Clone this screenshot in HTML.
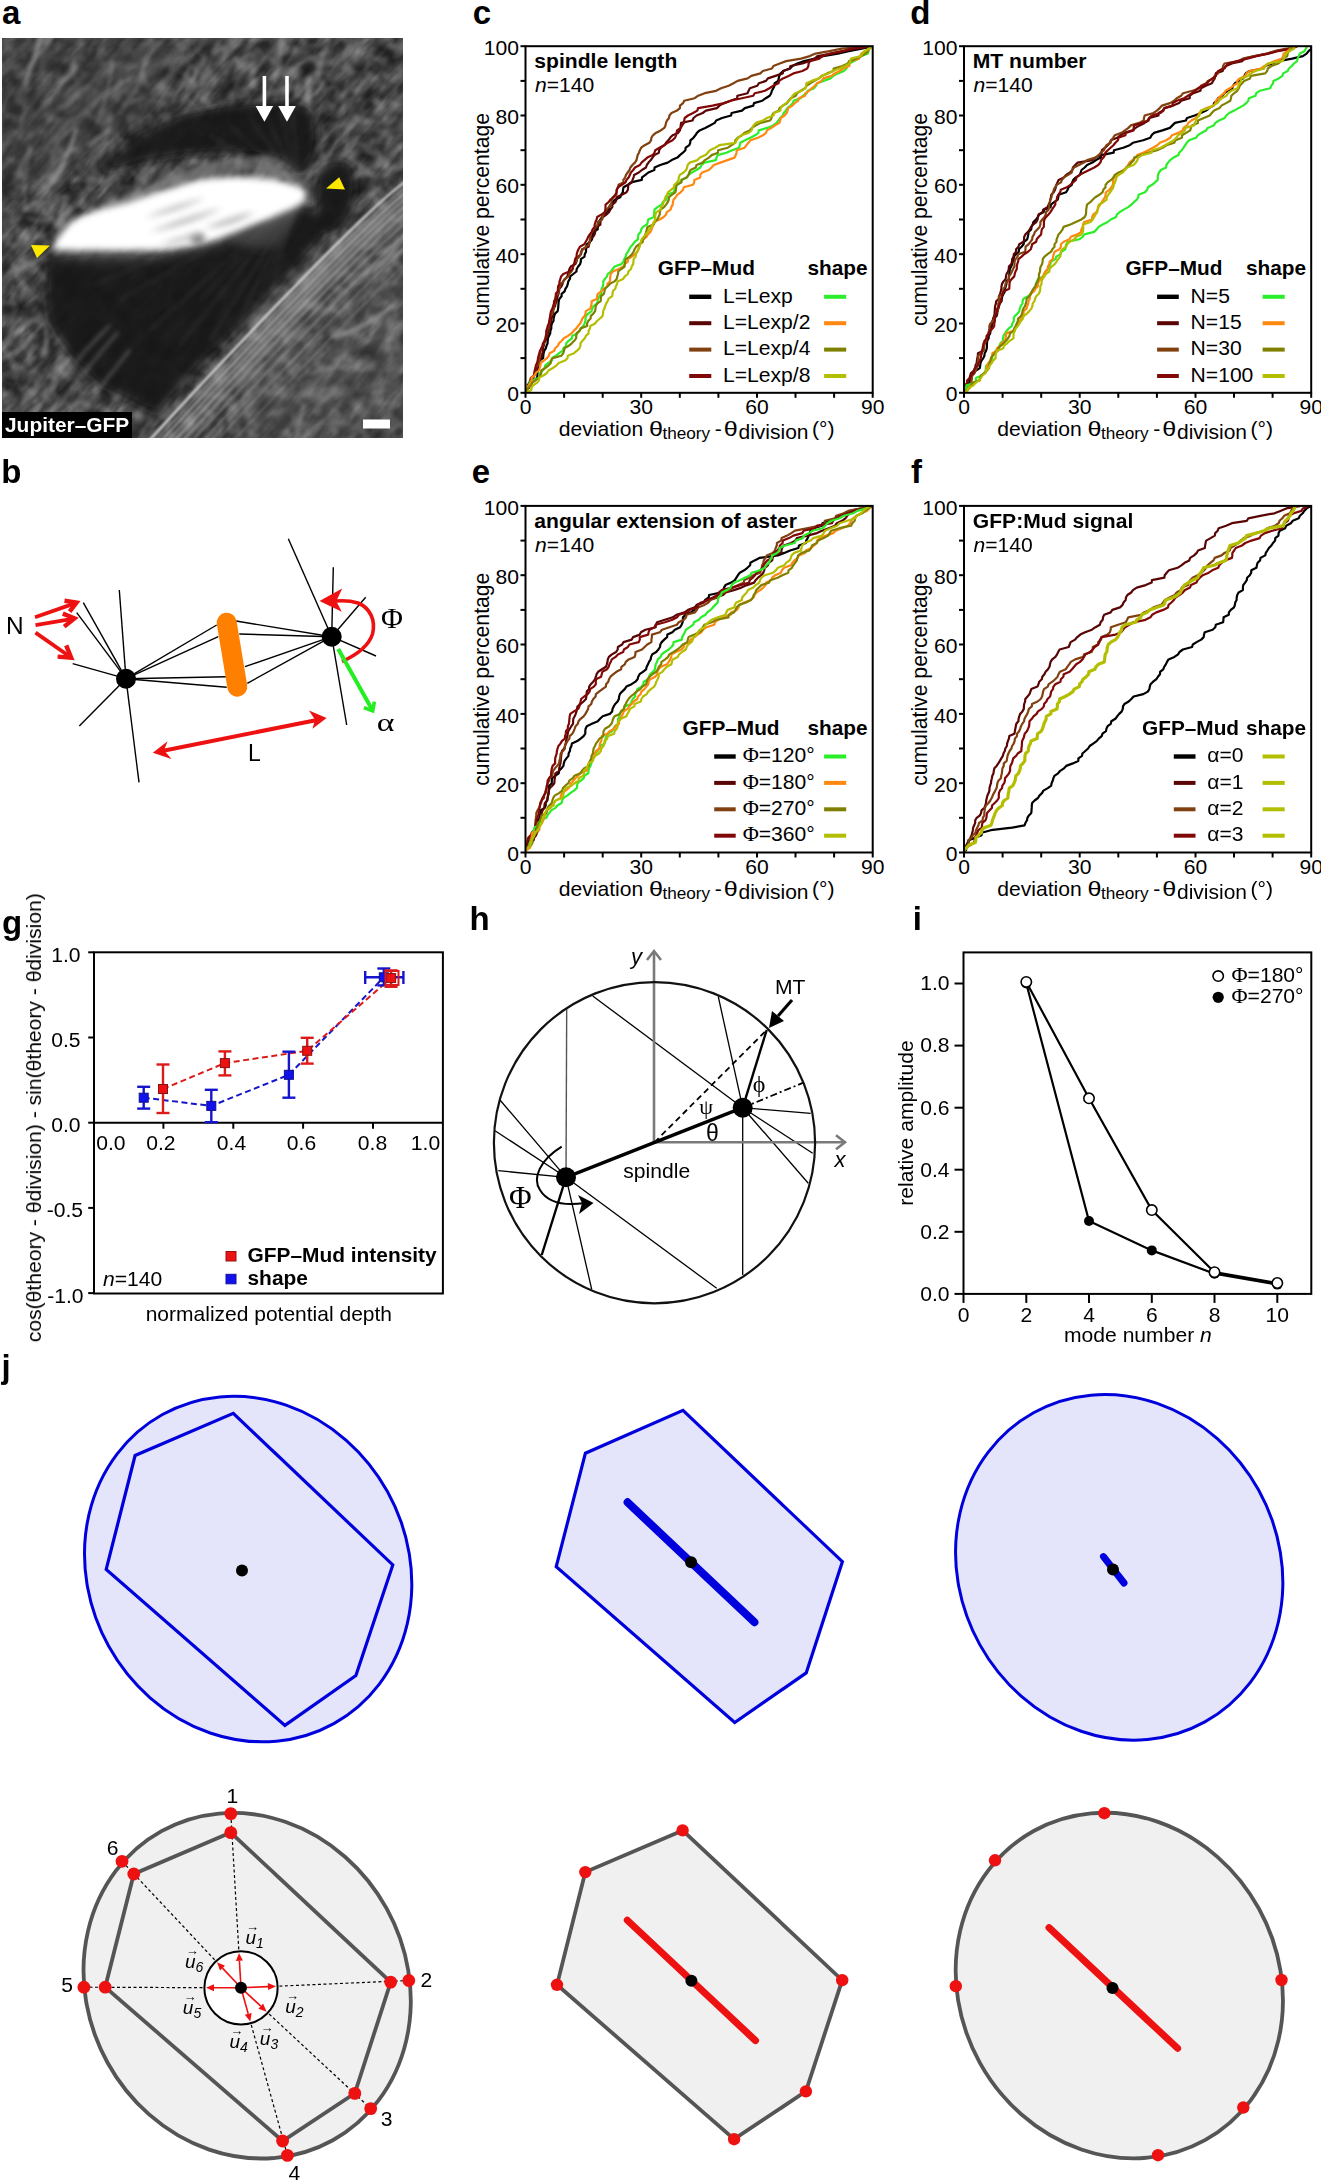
<!DOCTYPE html><html><head><meta charset="utf-8"><title>Figure</title><style>html,body{margin:0;padding:0;background:#fff;width:1321px;height:2181px;overflow:hidden;}svg{display:block;font-family:"Liberation Sans",sans-serif;}</style></head><body><svg width="1321" height="2181" viewBox="0 0 1321 2181" font-family="Liberation Sans, sans-serif">
<rect width="1321" height="2181" fill="#fff"/>
<text x="2.0" y="23.7" font-size="33" font-weight="bold" font-style="normal" text-anchor="start" fill="#000" >a</text>
<defs><clipPath id="clipA"><rect x="2" y="38" width="401" height="400"/></clipPath><filter id="b1" x="-20%" y="-20%" width="140%" height="140%"><feGaussianBlur stdDeviation="1.2"/></filter><filter id="b2" x="-20%" y="-20%" width="140%" height="140%"><feGaussianBlur stdDeviation="2"/></filter><filter id="b3" x="-20%" y="-20%" width="140%" height="140%"><feGaussianBlur stdDeviation="3"/></filter><filter id="b5" x="-30%" y="-30%" width="160%" height="160%"><feGaussianBlur stdDeviation="5"/></filter><filter id="b8" x="-30%" y="-30%" width="160%" height="160%"><feGaussianBlur stdDeviation="8"/></filter><filter id="noise" x="0" y="0" width="100%" height="100%"><feTurbulence type="fractalNoise" baseFrequency="0.03 0.11" numOctaves="3" seed="3" result="t"/><feColorMatrix type="matrix" values="0 0 0 0 1  0 0 0 0 1  0 0 0 0 1  2.2 0 0 0 -0.85"/><feGaussianBlur stdDeviation="0.7"/></filter><filter id="noise2" x="0" y="0" width="100%" height="100%"><feTurbulence type="fractalNoise" baseFrequency="0.05 0.05" numOctaves="2" seed="11" result="t"/><feColorMatrix type="matrix" values="0 0 0 0 0  0 0 0 0 0  0 0 0 0 0  1.6 0 0 0 -0.55"/><feGaussianBlur stdDeviation="2"/></filter><filter id="noise3" x="0" y="0" width="100%" height="100%"><feTurbulence type="fractalNoise" baseFrequency="0.07 0.07" numOctaves="2" seed="23" result="t"/><feColorMatrix type="matrix" values="0 0 0 0 1  0 0 0 0 1  0 0 0 0 1  1.8 0 0 0 -0.75"/><feGaussianBlur stdDeviation="1.2"/></filter></defs>
<g clip-path="url(#clipA)">
<rect x="2" y="38" width="401" height="400" fill="#3c3c3c"/>
<rect x="-100" y="-100" width="700" height="700" filter="url(#noise)" opacity="0.3" transform="rotate(-50 200 240)"/>
<rect x="2" y="38" width="401" height="400" filter="url(#noise2)" opacity="0.85"/>
<rect x="2" y="38" width="401" height="400" filter="url(#noise3)" opacity="0.35"/>
<g filter="url(#b8)">
<path d="M2,38 L200,38 L150,110 L80,170 L2,200 Z" fill="#3a3a3a" opacity="0.45"/>
<path d="M260,300 L403,200 L403,438 L230,438 Z" fill="#6a6a6a" opacity="0.35"/>
</g>
<g filter="url(#b2)" fill="none" stroke-linecap="round">
<path d="M254,349 Q284,344 310,327" stroke="rgb(123,123,123)" stroke-width="3.0" stroke-opacity="0.57"/>
<path d="M90,52 Q93,39 100,27" stroke="rgb(151,151,151)" stroke-width="2.3" stroke-opacity="0.34"/>
<path d="M90,344 Q105,331 122,320" stroke="rgb(129,129,129)" stroke-width="2.0" stroke-opacity="0.52"/>
<path d="M36,31 Q65,18 97,15" stroke="rgb(147,147,147)" stroke-width="3.1" stroke-opacity="0.36"/>
<path d="M53,165 Q63,152 78,149" stroke="rgb(145,145,145)" stroke-width="3.2" stroke-opacity="0.61"/>
<path d="M111,185 Q109,170 118,158" stroke="rgb(128,128,128)" stroke-width="2.3" stroke-opacity="0.59"/>
<path d="M238,286 Q258,267 283,254" stroke="rgb(160,160,160)" stroke-width="2.1" stroke-opacity="0.47"/>
<path d="M57,140 Q86,121 103,91" stroke="rgb(165,165,165)" stroke-width="3.0" stroke-opacity="0.31"/>
<path d="M327,187 Q339,166 359,151" stroke="rgb(145,145,145)" stroke-width="2.0" stroke-opacity="0.39"/>
<path d="M341,229 Q359,214 367,192" stroke="rgb(152,152,152)" stroke-width="2.9" stroke-opacity="0.34"/>
<path d="M309,373 Q340,364 372,369" stroke="rgb(163,163,163)" stroke-width="2.5" stroke-opacity="0.43"/>
<path d="M45,149 Q61,125 86,111" stroke="rgb(160,160,160)" stroke-width="2.2" stroke-opacity="0.58"/>
<path d="M256,340 Q249,322 256,305" stroke="rgb(196,196,196)" stroke-width="2.5" stroke-opacity="0.44"/>
<path d="M84,285 Q103,261 123,237" stroke="rgb(173,173,173)" stroke-width="2.0" stroke-opacity="0.64"/>
<path d="M261,375 Q276,364 290,352" stroke="rgb(136,136,136)" stroke-width="2.7" stroke-opacity="0.58"/>
<path d="M27,217 Q40,224 54,219" stroke="rgb(157,157,157)" stroke-width="2.0" stroke-opacity="0.62"/>
<path d="M253,103 Q273,91 296,85" stroke="rgb(155,155,155)" stroke-width="2.2" stroke-opacity="0.44"/>
<path d="M44,192 Q67,164 76,130" stroke="rgb(200,200,200)" stroke-width="3.1" stroke-opacity="0.60"/>
<path d="M59,242 Q56,218 67,196" stroke="rgb(165,165,165)" stroke-width="2.8" stroke-opacity="0.53"/>
<path d="M314,186 Q324,160 340,137" stroke="rgb(182,182,182)" stroke-width="2.2" stroke-opacity="0.64"/>
<path d="M295,441 Q310,430 325,420" stroke="rgb(152,152,152)" stroke-width="2.3" stroke-opacity="0.40"/>
<path d="M107,245 Q132,235 159,230" stroke="rgb(155,155,155)" stroke-width="2.7" stroke-opacity="0.56"/>
<path d="M344,181 Q375,171 397,148" stroke="rgb(162,162,162)" stroke-width="2.5" stroke-opacity="0.49"/>
<path d="M53,390 Q59,357 65,324" stroke="rgb(130,130,130)" stroke-width="2.8" stroke-opacity="0.56"/>
<path d="M56,366 Q67,344 75,321" stroke="rgb(154,154,154)" stroke-width="2.8" stroke-opacity="0.31"/>
<path d="M50,220 Q53,193 64,169" stroke="rgb(143,143,143)" stroke-width="2.7" stroke-opacity="0.31"/>
<path d="M187,127 Q192,116 204,112" stroke="rgb(144,144,144)" stroke-width="2.6" stroke-opacity="0.45"/>
<path d="M134,315 Q140,304 152,299" stroke="rgb(167,167,167)" stroke-width="1.8" stroke-opacity="0.44"/>
<path d="M103,206 Q107,192 121,188" stroke="rgb(198,198,198)" stroke-width="2.2" stroke-opacity="0.40"/>
<path d="M206,439 Q208,422 215,406" stroke="rgb(136,136,136)" stroke-width="2.4" stroke-opacity="0.58"/>
<path d="M263,189 Q273,177 268,162" stroke="rgb(137,137,137)" stroke-width="2.7" stroke-opacity="0.42"/>
<path d="M373,30 Q378,19 381,6" stroke="rgb(198,198,198)" stroke-width="2.6" stroke-opacity="0.41"/>
<path d="M366,273 Q384,262 402,252" stroke="rgb(168,168,168)" stroke-width="2.3" stroke-opacity="0.60"/>
<path d="M50,285 Q62,259 80,237" stroke="rgb(152,152,152)" stroke-width="2.4" stroke-opacity="0.41"/>
<path d="M413,241 Q422,227 427,210" stroke="rgb(176,176,176)" stroke-width="2.1" stroke-opacity="0.31"/>
<path d="M40,199 Q54,182 66,163" stroke="rgb(151,151,151)" stroke-width="3.1" stroke-opacity="0.57"/>
<path d="M88,145 Q100,138 110,129" stroke="rgb(180,180,180)" stroke-width="2.5" stroke-opacity="0.60"/>
<path d="M367,415 Q368,403 379,398" stroke="rgb(156,156,156)" stroke-width="2.5" stroke-opacity="0.42"/>
<path d="M111,258 Q116,237 119,216" stroke="rgb(124,124,124)" stroke-width="1.8" stroke-opacity="0.49"/>
<path d="M282,76 Q304,59 330,51" stroke="rgb(174,174,174)" stroke-width="2.9" stroke-opacity="0.45"/>
<path d="M233,335 Q226,310 222,284" stroke="rgb(170,170,170)" stroke-width="2.8" stroke-opacity="0.55"/>
<path d="M376,230 Q392,206 413,186" stroke="rgb(120,120,120)" stroke-width="2.8" stroke-opacity="0.45"/>
<path d="M106,366 Q132,346 157,324" stroke="rgb(183,183,183)" stroke-width="3.2" stroke-opacity="0.49"/>
<path d="M167,263 Q179,259 186,250" stroke="rgb(154,154,154)" stroke-width="2.9" stroke-opacity="0.58"/>
<path d="M272,41 Q297,55 324,63" stroke="rgb(126,126,126)" stroke-width="2.0" stroke-opacity="0.34"/>
<path d="M250,384 Q261,375 261,361" stroke="rgb(157,157,157)" stroke-width="2.8" stroke-opacity="0.45"/>
<path d="M61,110 Q84,91 106,70" stroke="rgb(168,168,168)" stroke-width="2.8" stroke-opacity="0.40"/>
<path d="M231,81 Q246,67 258,51" stroke="rgb(121,121,121)" stroke-width="2.4" stroke-opacity="0.41"/>
<path d="M244,241 Q263,213 277,182" stroke="rgb(139,139,139)" stroke-width="2.6" stroke-opacity="0.54"/>
<path d="M108,435 Q120,414 138,399" stroke="rgb(128,128,128)" stroke-width="2.6" stroke-opacity="0.39"/>
<path d="M310,252 Q321,244 326,231" stroke="rgb(142,142,142)" stroke-width="2.0" stroke-opacity="0.31"/>
<path d="M130,276 Q143,275 148,264" stroke="rgb(184,184,184)" stroke-width="2.6" stroke-opacity="0.38"/>
<path d="M366,237 Q380,224 387,208" stroke="rgb(126,126,126)" stroke-width="3.0" stroke-opacity="0.63"/>
<path d="M169,372 Q177,343 198,322" stroke="rgb(182,182,182)" stroke-width="2.9" stroke-opacity="0.35"/>
<path d="M255,182 Q258,167 266,152" stroke="rgb(169,169,169)" stroke-width="2.3" stroke-opacity="0.55"/>
<path d="M138,157 Q164,151 183,132" stroke="rgb(166,166,166)" stroke-width="2.5" stroke-opacity="0.51"/>
<path d="M232,348 Q241,330 258,318" stroke="rgb(125,125,125)" stroke-width="2.5" stroke-opacity="0.63"/>
<path d="M271,180 Q281,162 297,147" stroke="rgb(199,199,199)" stroke-width="3.1" stroke-opacity="0.41"/>
<path d="M183,112 Q210,111 234,99" stroke="rgb(180,180,180)" stroke-width="2.0" stroke-opacity="0.39"/>
<path d="M102,99 Q114,86 130,79" stroke="rgb(181,181,181)" stroke-width="3.1" stroke-opacity="0.42"/>
<path d="M311,166 Q324,165 331,154" stroke="rgb(139,139,139)" stroke-width="2.0" stroke-opacity="0.53"/>
<path d="M108,320 Q121,295 143,276" stroke="rgb(145,145,145)" stroke-width="2.8" stroke-opacity="0.50"/>
<path d="M269,296 Q279,264 298,237" stroke="rgb(166,166,166)" stroke-width="2.2" stroke-opacity="0.56"/>
<path d="M296,100 Q299,84 298,68" stroke="rgb(125,125,125)" stroke-width="2.7" stroke-opacity="0.45"/>
<path d="M409,33 Q411,19 424,15" stroke="rgb(190,190,190)" stroke-width="3.0" stroke-opacity="0.59"/>
<path d="M229,434 Q231,406 241,380" stroke="rgb(182,182,182)" stroke-width="1.9" stroke-opacity="0.46"/>
<path d="M280,307 Q298,292 307,271" stroke="rgb(177,177,177)" stroke-width="2.2" stroke-opacity="0.32"/>
<path d="M-3,448 Q4,435 10,422" stroke="rgb(171,171,171)" stroke-width="2.1" stroke-opacity="0.38"/>
<path d="M388,370 Q392,357 406,354" stroke="rgb(147,147,147)" stroke-width="2.7" stroke-opacity="0.45"/>
<path d="M137,212 Q154,188 170,163" stroke="rgb(136,136,136)" stroke-width="2.8" stroke-opacity="0.62"/>
<path d="M115,223 Q131,197 152,174" stroke="rgb(131,131,131)" stroke-width="2.9" stroke-opacity="0.39"/>
<path d="M157,87 Q174,70 191,54" stroke="rgb(130,130,130)" stroke-width="2.9" stroke-opacity="0.64"/>
<path d="M273,149 Q290,133 299,112" stroke="rgb(167,167,167)" stroke-width="3.0" stroke-opacity="0.33"/>
<path d="M319,193 Q343,176 373,173" stroke="rgb(156,156,156)" stroke-width="2.7" stroke-opacity="0.57"/>
<path d="M233,220 Q239,190 238,159" stroke="rgb(174,174,174)" stroke-width="2.2" stroke-opacity="0.58"/>
<path d="M148,86 Q141,75 144,63" stroke="rgb(153,153,153)" stroke-width="2.5" stroke-opacity="0.41"/>
<path d="M-5,263 Q21,249 36,224" stroke="rgb(165,165,165)" stroke-width="2.4" stroke-opacity="0.39"/>
<path d="M399,37 Q408,15 427,0" stroke="rgb(145,145,145)" stroke-width="2.3" stroke-opacity="0.30"/>
<path d="M237,386 Q258,366 285,355" stroke="rgb(138,138,138)" stroke-width="2.4" stroke-opacity="0.63"/>
<path d="M330,81 Q348,74 357,58" stroke="rgb(179,179,179)" stroke-width="2.6" stroke-opacity="0.36"/>
<path d="M1,317 Q-4,302 6,290" stroke="rgb(136,136,136)" stroke-width="2.9" stroke-opacity="0.45"/>
<path d="M3,451 Q11,443 17,434" stroke="rgb(181,181,181)" stroke-width="2.8" stroke-opacity="0.42"/>
<path d="M184,117 Q202,91 211,62" stroke="rgb(150,150,150)" stroke-width="2.3" stroke-opacity="0.58"/>
<path d="M338,315 Q363,293 395,282" stroke="rgb(183,183,183)" stroke-width="2.4" stroke-opacity="0.35"/>
<path d="M346,241 Q356,235 360,224" stroke="rgb(145,145,145)" stroke-width="2.9" stroke-opacity="0.56"/>
<path d="M190,232 Q201,211 222,198" stroke="rgb(145,145,145)" stroke-width="2.3" stroke-opacity="0.30"/>
<path d="M205,282 Q203,266 215,255" stroke="rgb(159,159,159)" stroke-width="2.5" stroke-opacity="0.48"/>
<path d="M220,327 Q239,316 251,298" stroke="rgb(194,194,194)" stroke-width="3.1" stroke-opacity="0.54"/>
<path d="M275,261 Q286,233 291,203" stroke="rgb(186,186,186)" stroke-width="2.1" stroke-opacity="0.40"/>
<path d="M-8,363 Q16,354 35,335" stroke="rgb(172,172,172)" stroke-width="2.2" stroke-opacity="0.63"/>
<path d="M101,338 Q114,333 115,319" stroke="rgb(164,164,164)" stroke-width="2.8" stroke-opacity="0.59"/>
<path d="M305,293 Q306,278 306,262" stroke="rgb(135,135,135)" stroke-width="2.1" stroke-opacity="0.64"/>
<path d="M219,199 Q226,191 228,181" stroke="rgb(146,146,146)" stroke-width="3.1" stroke-opacity="0.51"/>
<path d="M150,77 Q170,58 188,38" stroke="rgb(167,167,167)" stroke-width="2.1" stroke-opacity="0.34"/>
<path d="M109,373 Q138,362 169,365" stroke="rgb(172,172,172)" stroke-width="2.9" stroke-opacity="0.38"/>
<path d="M8,273 Q37,263 61,243" stroke="rgb(172,172,172)" stroke-width="2.4" stroke-opacity="0.45"/>
<path d="M213,419 Q228,407 230,388" stroke="rgb(143,143,143)" stroke-width="2.4" stroke-opacity="0.35"/>
<path d="M110,269 Q131,257 154,248" stroke="rgb(161,161,161)" stroke-width="2.6" stroke-opacity="0.53"/>
<path d="M284,343 Q290,331 281,321" stroke="rgb(160,160,160)" stroke-width="2.1" stroke-opacity="0.46"/>
<path d="M149,418 Q171,394 190,368" stroke="rgb(181,181,181)" stroke-width="3.0" stroke-opacity="0.30"/>
<path d="M276,78 Q280,60 282,42" stroke="rgb(176,176,176)" stroke-width="2.8" stroke-opacity="0.59"/>
<path d="M334,337 Q366,328 392,306" stroke="rgb(200,200,200)" stroke-width="3.0" stroke-opacity="0.60"/>
<path d="M141,380 Q153,370 155,354" stroke="rgb(130,130,130)" stroke-width="2.1" stroke-opacity="0.63"/>
<path d="M185,32 Q215,14 236,-15" stroke="rgb(136,136,136)" stroke-width="2.8" stroke-opacity="0.47"/>
<path d="M404,436 Q408,425 418,418" stroke="rgb(134,134,134)" stroke-width="2.9" stroke-opacity="0.65"/>
<path d="M310,114 Q305,95 310,77" stroke="rgb(183,183,183)" stroke-width="2.7" stroke-opacity="0.57"/>
<path d="M19,77 Q32,62 46,47" stroke="rgb(148,148,148)" stroke-width="2.4" stroke-opacity="0.38"/>
<path d="M273,62 Q277,44 291,33" stroke="rgb(181,181,181)" stroke-width="2.4" stroke-opacity="0.36"/>
<path d="M351,398 Q352,380 364,368" stroke="rgb(138,138,138)" stroke-width="2.3" stroke-opacity="0.31"/>
<path d="M90,227 Q103,212 115,196" stroke="rgb(126,126,126)" stroke-width="3.2" stroke-opacity="0.37"/>
<path d="M334,35 Q357,30 375,15" stroke="rgb(180,180,180)" stroke-width="2.5" stroke-opacity="0.32"/>
<path d="M153,365 Q164,347 172,328" stroke="rgb(199,199,199)" stroke-width="2.7" stroke-opacity="0.31"/>
<path d="M-10,361 Q12,358 27,343" stroke="rgb(168,168,168)" stroke-width="1.8" stroke-opacity="0.59"/>
<path d="M53,176 Q50,158 57,141" stroke="rgb(129,129,129)" stroke-width="3.2" stroke-opacity="0.38"/>
<path d="M165,146 Q170,124 186,108" stroke="rgb(141,141,141)" stroke-width="2.9" stroke-opacity="0.33"/>
<path d="M282,45 Q299,32 320,29" stroke="rgb(122,122,122)" stroke-width="2.8" stroke-opacity="0.47"/>
<path d="M120,227 Q138,216 155,201" stroke="rgb(121,121,121)" stroke-width="2.1" stroke-opacity="0.45"/>
<path d="M97,354 Q114,344 125,327" stroke="rgb(139,139,139)" stroke-width="2.2" stroke-opacity="0.61"/>
<path d="M373,270 Q384,257 400,249" stroke="rgb(181,181,181)" stroke-width="2.6" stroke-opacity="0.46"/>
<path d="M363,445 Q368,430 383,427" stroke="rgb(121,121,121)" stroke-width="2.8" stroke-opacity="0.35"/>
<path d="M192,333 Q198,325 204,317" stroke="rgb(198,198,198)" stroke-width="2.1" stroke-opacity="0.41"/>
<path d="M334,133 Q346,107 346,79" stroke="rgb(122,122,122)" stroke-width="2.6" stroke-opacity="0.45"/>
<path d="M25,83 Q37,53 46,21" stroke="rgb(196,196,196)" stroke-width="3.1" stroke-opacity="0.65"/>
<path d="M113,102 Q122,69 144,43" stroke="rgb(177,177,177)" stroke-width="1.9" stroke-opacity="0.37"/>
<path d="M252,72 Q267,55 284,39" stroke="rgb(178,178,178)" stroke-width="2.3" stroke-opacity="0.47"/>
<path d="M229,119 Q228,97 240,78" stroke="rgb(131,131,131)" stroke-width="2.0" stroke-opacity="0.61"/>
<path d="M145,177 Q151,146 168,121" stroke="rgb(152,152,152)" stroke-width="3.0" stroke-opacity="0.52"/>
<path d="M151,300 Q157,285 170,274" stroke="rgb(176,176,176)" stroke-width="3.1" stroke-opacity="0.59"/>
<path d="M241,273 Q256,244 272,216" stroke="rgb(198,198,198)" stroke-width="2.5" stroke-opacity="0.60"/>
<path d="M-3,283 Q9,276 15,265" stroke="rgb(198,198,198)" stroke-width="2.4" stroke-opacity="0.50"/>
<path d="M216,329 Q223,302 243,281" stroke="rgb(178,178,178)" stroke-width="2.2" stroke-opacity="0.48"/>
<path d="M218,391 Q225,357 225,323" stroke="rgb(154,154,154)" stroke-width="2.0" stroke-opacity="0.56"/>
<path d="M94,158 Q105,154 106,142" stroke="rgb(179,179,179)" stroke-width="2.3" stroke-opacity="0.53"/>
<path d="M395,165 Q398,140 403,115" stroke="rgb(139,139,139)" stroke-width="2.3" stroke-opacity="0.33"/>
<path d="M167,297 Q184,277 201,257" stroke="rgb(184,184,184)" stroke-width="2.4" stroke-opacity="0.50"/>
<path d="M381,92 Q393,81 405,69" stroke="rgb(188,188,188)" stroke-width="3.1" stroke-opacity="0.38"/>
<path d="M86,102 Q101,84 113,63" stroke="rgb(145,145,145)" stroke-width="2.2" stroke-opacity="0.43"/>
<path d="M371,144 Q394,131 413,114" stroke="rgb(134,134,134)" stroke-width="2.8" stroke-opacity="0.34"/>
<path d="M22,404 Q36,393 42,377" stroke="rgb(189,189,189)" stroke-width="2.3" stroke-opacity="0.52"/>
<path d="M299,142 Q303,122 313,104" stroke="rgb(132,132,132)" stroke-width="2.2" stroke-opacity="0.40"/>
<path d="M128,460 Q137,440 156,430" stroke="rgb(132,132,132)" stroke-width="2.9" stroke-opacity="0.61"/>
<path d="M203,75 Q212,56 228,43" stroke="rgb(123,123,123)" stroke-width="3.1" stroke-opacity="0.49"/>
<path d="M267,323 Q274,306 284,292" stroke="rgb(141,141,141)" stroke-width="2.9" stroke-opacity="0.34"/>
<path d="M216,66 Q240,41 263,14" stroke="rgb(175,175,175)" stroke-width="2.0" stroke-opacity="0.41"/>
<path d="M180,383 Q190,375 201,379" stroke="rgb(143,143,143)" stroke-width="3.1" stroke-opacity="0.41"/>
<path d="M337,257 Q328,245 334,231" stroke="rgb(179,179,179)" stroke-width="2.2" stroke-opacity="0.49"/>
<path d="M331,303 Q343,292 356,282" stroke="rgb(171,171,171)" stroke-width="2.9" stroke-opacity="0.51"/>
<path d="M39,117 Q65,107 87,91" stroke="rgb(133,133,133)" stroke-width="2.4" stroke-opacity="0.38"/>
<path d="M90,306 Q108,285 121,260" stroke="rgb(181,181,181)" stroke-width="1.9" stroke-opacity="0.50"/>
<path d="M91,183 Q102,181 110,172" stroke="rgb(135,135,135)" stroke-width="2.1" stroke-opacity="0.31"/>
<path d="M234,237 Q260,220 284,200" stroke="rgb(197,197,197)" stroke-width="2.3" stroke-opacity="0.61"/>
<path d="M38,211 Q51,193 50,171" stroke="rgb(136,136,136)" stroke-width="2.2" stroke-opacity="0.37"/>
<path d="M399,44 Q418,34 439,26" stroke="rgb(156,156,156)" stroke-width="2.4" stroke-opacity="0.59"/>
<path d="M277,176 Q305,173 333,169" stroke="rgb(198,198,198)" stroke-width="2.9" stroke-opacity="0.30"/>
<path d="M234,310 Q236,287 242,264" stroke="rgb(149,149,149)" stroke-width="2.5" stroke-opacity="0.47"/>
<path d="M33,117 Q58,93 75,63" stroke="rgb(150,150,150)" stroke-width="2.7" stroke-opacity="0.44"/>
<path d="M25,210 Q23,178 30,147" stroke="rgb(150,150,150)" stroke-width="2.6" stroke-opacity="0.56"/>
<path d="M202,217 Q204,199 199,182" stroke="rgb(167,167,167)" stroke-width="2.6" stroke-opacity="0.49"/>
<path d="M334,367 Q353,345 381,336" stroke="rgb(174,174,174)" stroke-width="1.9" stroke-opacity="0.31"/>
<path d="M317,76 Q323,55 330,35" stroke="rgb(180,180,180)" stroke-width="2.5" stroke-opacity="0.48"/>
<path d="M-9,372 Q-5,343 -4,314" stroke="rgb(199,199,199)" stroke-width="2.1" stroke-opacity="0.53"/>
<path d="M175,246 Q182,212 182,178" stroke="rgb(145,145,145)" stroke-width="1.9" stroke-opacity="0.43"/>
<path d="M19,125 Q26,116 26,106" stroke="rgb(169,169,169)" stroke-width="2.3" stroke-opacity="0.57"/>
<path d="M30,195 Q36,180 50,174" stroke="rgb(177,177,177)" stroke-width="2.0" stroke-opacity="0.64"/>
<path d="M101,256 Q102,240 110,227" stroke="rgb(131,131,131)" stroke-width="3.0" stroke-opacity="0.62"/>
<path d="M329,209 Q330,182 325,156" stroke="rgb(176,176,176)" stroke-width="2.8" stroke-opacity="0.37"/>
<path d="M236,338 Q269,336 297,321" stroke="rgb(140,140,140)" stroke-width="2.3" stroke-opacity="0.33"/>
<path d="M246,186 Q254,174 266,167" stroke="rgb(120,120,120)" stroke-width="2.6" stroke-opacity="0.55"/>
<path d="M397,349 Q401,321 392,295" stroke="rgb(130,130,130)" stroke-width="2.5" stroke-opacity="0.43"/>
<path d="M415,341 Q433,331 441,313" stroke="rgb(153,153,153)" stroke-width="2.9" stroke-opacity="0.46"/>
<path d="M384,291 Q400,275 418,259" stroke="rgb(122,122,122)" stroke-width="2.1" stroke-opacity="0.40"/>
<path d="M339,60 Q356,43 378,34" stroke="rgb(196,196,196)" stroke-width="2.2" stroke-opacity="0.33"/>
<path d="M123,105 Q136,91 145,74" stroke="rgb(135,135,135)" stroke-width="3.1" stroke-opacity="0.61"/>
<path d="M316,405 Q324,378 342,357" stroke="rgb(182,182,182)" stroke-width="2.5" stroke-opacity="0.46"/>
<path d="M175,95 Q185,81 190,65" stroke="rgb(151,151,151)" stroke-width="3.0" stroke-opacity="0.59"/>
<path d="M240,61 Q250,45 263,31" stroke="rgb(140,140,140)" stroke-width="2.3" stroke-opacity="0.63"/>
<path d="M19,177 Q19,161 31,150" stroke="rgb(183,183,183)" stroke-width="2.3" stroke-opacity="0.54"/>
<path d="M179,405 Q178,393 184,382" stroke="rgb(156,156,156)" stroke-width="2.2" stroke-opacity="0.46"/>
<path d="M371,256 Q394,249 410,231" stroke="rgb(172,172,172)" stroke-width="2.7" stroke-opacity="0.52"/>
<path d="M158,213 Q168,204 179,196" stroke="rgb(124,124,124)" stroke-width="2.2" stroke-opacity="0.43"/>
<path d="M245,284 Q238,269 246,255" stroke="rgb(133,133,133)" stroke-width="2.6" stroke-opacity="0.54"/>
<path d="M1,427 Q11,412 26,403" stroke="rgb(175,175,175)" stroke-width="2.7" stroke-opacity="0.31"/>
<path d="M181,100 Q194,86 197,67" stroke="rgb(179,179,179)" stroke-width="2.7" stroke-opacity="0.60"/>
<path d="M58,234 Q63,217 65,199" stroke="rgb(134,134,134)" stroke-width="2.4" stroke-opacity="0.40"/>
<path d="M385,176 Q405,160 425,144" stroke="rgb(153,153,153)" stroke-width="2.0" stroke-opacity="0.56"/>
<path d="M300,227 Q310,212 326,205" stroke="rgb(172,172,172)" stroke-width="1.8" stroke-opacity="0.54"/>
<path d="M119,114 Q127,101 142,99" stroke="rgb(168,168,168)" stroke-width="1.8" stroke-opacity="0.59"/>
<path d="M270,135 Q279,114 286,93" stroke="rgb(184,184,184)" stroke-width="1.8" stroke-opacity="0.34"/>
<path d="M224,73 Q220,53 231,36" stroke="rgb(145,145,145)" stroke-width="2.5" stroke-opacity="0.40"/>
<path d="M211,50 Q229,52 241,39" stroke="rgb(160,160,160)" stroke-width="2.1" stroke-opacity="0.46"/>
<path d="M-6,82 Q4,70 18,65" stroke="rgb(128,128,128)" stroke-width="2.7" stroke-opacity="0.57"/>
<path d="M374,281 Q390,252 410,226" stroke="rgb(163,163,163)" stroke-width="2.2" stroke-opacity="0.36"/>
<path d="M99,58 Q99,42 113,33" stroke="rgb(159,159,159)" stroke-width="2.5" stroke-opacity="0.38"/>
<path d="M4,351 Q16,324 14,294" stroke="rgb(147,147,147)" stroke-width="2.3" stroke-opacity="0.50"/>
<path d="M104,46 Q105,28 118,16" stroke="rgb(151,151,151)" stroke-width="2.2" stroke-opacity="0.38"/>
<path d="M250,33 Q261,6 284,-10" stroke="rgb(161,161,161)" stroke-width="2.5" stroke-opacity="0.42"/>
<path d="M98,123 Q108,93 113,63" stroke="rgb(195,195,195)" stroke-width="2.6" stroke-opacity="0.38"/>
<path d="M-18,160 Q-16,144 -5,131" stroke="rgb(194,194,194)" stroke-width="2.1" stroke-opacity="0.59"/>
<path d="M41,357 Q49,344 46,329" stroke="rgb(196,196,196)" stroke-width="2.5" stroke-opacity="0.61"/>
<path d="M257,327 Q255,314 264,304" stroke="rgb(179,179,179)" stroke-width="2.9" stroke-opacity="0.53"/>
<path d="M278,305 Q303,301 325,313" stroke="rgb(121,121,121)" stroke-width="2.6" stroke-opacity="0.51"/>
<path d="M268,164 Q271,148 275,131" stroke="rgb(196,196,196)" stroke-width="2.6" stroke-opacity="0.42"/>
<path d="M65,266 Q84,247 94,223" stroke="rgb(183,183,183)" stroke-width="2.1" stroke-opacity="0.49"/>
<path d="M67,338 Q74,322 70,304" stroke="rgb(154,154,154)" stroke-width="1.9" stroke-opacity="0.42"/>
<path d="M286,299 Q297,294 299,282" stroke="rgb(176,176,176)" stroke-width="2.9" stroke-opacity="0.32"/>
<path d="M154,451 Q174,444 186,427" stroke="rgb(181,181,181)" stroke-width="3.1" stroke-opacity="0.32"/>
<path d="M415,201 Q430,181 451,167" stroke="rgb(184,184,184)" stroke-width="2.8" stroke-opacity="0.43"/>
<path d="M251,294 Q279,292 302,277" stroke="rgb(149,149,149)" stroke-width="2.6" stroke-opacity="0.57"/>
<path d="M270,152 Q284,119 286,85" stroke="rgb(142,142,142)" stroke-width="2.9" stroke-opacity="0.46"/>
<path d="M393,220 Q417,210 429,188" stroke="rgb(161,161,161)" stroke-width="2.8" stroke-opacity="0.38"/>
<path d="M45,83 Q38,61 47,41" stroke="rgb(138,138,138)" stroke-width="1.8" stroke-opacity="0.54"/>
<path d="M279,90 Q282,76 296,71" stroke="rgb(128,128,128)" stroke-width="3.0" stroke-opacity="0.45"/>
<path d="M61,81 Q74,78 75,65" stroke="rgb(186,186,186)" stroke-width="2.7" stroke-opacity="0.60"/>
<path d="M294,447 Q299,425 304,404" stroke="rgb(191,191,191)" stroke-width="2.3" stroke-opacity="0.57"/>
<path d="M238,34 Q259,6 286,-17" stroke="rgb(158,158,158)" stroke-width="2.1" stroke-opacity="0.53"/>
<path d="M175,59 Q198,54 215,37" stroke="rgb(149,149,149)" stroke-width="2.3" stroke-opacity="0.39"/>
<path d="M140,30 Q152,24 159,12" stroke="rgb(165,165,165)" stroke-width="2.9" stroke-opacity="0.65"/>
<path d="M26,270 Q39,260 51,250" stroke="rgb(200,200,200)" stroke-width="2.2" stroke-opacity="0.35"/>
<path d="M326,75 Q343,62 351,42" stroke="rgb(160,160,160)" stroke-width="2.3" stroke-opacity="0.36"/>
<path d="M170,310 Q166,290 175,271" stroke="rgb(187,187,187)" stroke-width="2.8" stroke-opacity="0.56"/>
<path d="M337,33 Q340,14 329,-2" stroke="rgb(139,139,139)" stroke-width="2.3" stroke-opacity="0.64"/>
<path d="M361,150 Q381,140 391,120" stroke="rgb(120,120,120)" stroke-width="2.4" stroke-opacity="0.41"/>
<path d="M397,234 Q407,220 419,206" stroke="rgb(133,133,133)" stroke-width="2.6" stroke-opacity="0.52"/>
<path d="M203,198 Q211,184 213,169" stroke="rgb(180,180,180)" stroke-width="2.5" stroke-opacity="0.43"/>
<path d="M45,43 Q54,33 59,21" stroke="rgb(163,163,163)" stroke-width="2.6" stroke-opacity="0.61"/>
<path d="M379,141 Q388,129 397,116" stroke="rgb(152,152,152)" stroke-width="1.9" stroke-opacity="0.33"/>
<path d="M372,279 Q386,268 391,250" stroke="rgb(126,126,126)" stroke-width="2.7" stroke-opacity="0.32"/>
<path d="M167,390 Q175,366 191,346" stroke="rgb(150,150,150)" stroke-width="2.8" stroke-opacity="0.57"/>
<path d="M169,126 Q200,113 230,99" stroke="rgb(137,137,137)" stroke-width="2.4" stroke-opacity="0.36"/>
<path d="M140,79 Q144,57 161,41" stroke="rgb(179,179,179)" stroke-width="2.3" stroke-opacity="0.62"/>
</g>
<g filter="url(#b5)" fill="#151515" fill-opacity="0.93">
<path d="M101,174 C108,162 120,148 138,136 C158,124 178,115 200,110 C225,105 250,102 276,101 C290,101 302,104 310,111 C317,118 318,135 315,150 C311,162 306,170 300,176 C292,168 285,160 276,158 C260,155 245,154 225,152 C200,153 180,155 160,158 C140,162 120,168 101,174 Z"/>
<path d="M318,172 C325,162 337,157 350,165 C358,175 357,198 348,215 C340,228 330,236 322,232 C316,220 314,200 316,185 Z"/>
<path d="M49,258 C70,252 110,252 153,254 C185,250 215,240 245,226 C270,216 290,210 305,205 C315,212 322,222 330,228 C315,245 295,268 275,290 C255,312 228,338 205,360 C185,380 172,398 158,414 C145,408 125,398 105,388 C85,372 65,350 52,327 C45,310 43,285 49,258 Z"/>
</g>
<g filter="url(#b5)" fill="#3c3c3c" opacity="0.9">
<path d="M300,198 C280,212 255,226 228,240 C245,248 262,250 276,246 C290,232 298,215 300,198 Z"/>
</g>
<g filter="url(#b2)" stroke="#606060" fill="none" stroke-width="1.6" stroke-opacity="0.3">
<path d="M300,195 L150,330"/>
<path d="M300,195 L180,345"/>
<path d="M300,195 L210,340"/>
<path d="M300,195 L235,330"/>
<path d="M300,195 L255,310"/>
<path d="M300,195 L270,290"/>
<path d="M300,195 L200,300"/>
<path d="M300,195 L120,300"/>
<path d="M300,195 L95,285"/>
<path d="M300,190 L250,118"/>
<path d="M300,190 L265,112"/>
<path d="M300,190 L280,110"/>
<path d="M300,190 L292,112"/>
<path d="M300,190 L230,125"/>
<path d="M300,190 L210,135"/>
</g>
<g filter="url(#b2)" stroke="#7a7a7a" fill="none" stroke-width="1.5" stroke-opacity="0.6">
<path d="M70,232 C110,200 170,178 240,170 C265,168 285,175 298,186"/>
<path d="M76,230 C115,197 174,176 243,168 C267,167 285,175 298,186"/>
<path d="M82,228 C120,194 178,174 246,167 C269,166 285,175 298,186"/>
<path d="M88,226 C125,191 182,172 249,166 C271,165 285,175 298,186"/>
<path d="M94,224 C130,188 186,170 252,164 C273,164 285,175 298,186"/>
<path d="M100,222 C135,185 190,168 255,162 C275,163 285,175 298,186"/>
<path d="M106,220 C140,182 194,166 258,161 C277,162 285,175 298,186"/>
<path d="M112,218 C145,179 198,164 261,160 C279,161 285,175 298,186"/>
<path d="M118,216 C150,176 202,162 264,158 C281,160 285,175 298,186"/>
<path d="M124,214 C155,173 206,160 267,156 C283,159 285,175 298,186"/>
</g>
<g filter="url(#b5)" fill="#8a8a8a" opacity="0.45">
<path d="M185,444 C250,375 360,240 412,215 L412,182 C396,178 217,366 160,444 Z"/>
</g>
<g filter="url(#b1)" fill="none" stroke-linecap="round">
<path d="M146,444 C217.8,365.1 396.5,176.7 412,179" stroke="#cfcfcf" stroke-width="2.6"/>
<path d="M146,444 C217.8,365.1 396.5,176.7 412,179" transform="translate(3.8,3.3)" stroke="#b8b8b8" stroke-opacity="0.4" stroke-width="2"/>
<path d="M146,444 C217.8,365.1 396.5,176.7 412,179" transform="translate(6.8,5.9)" stroke="#b8b8b8" stroke-opacity="0.6" stroke-width="2.4"/>
<path d="M146,444 C217.8,365.1 396.5,176.7 412,179" transform="translate(10.5,9.2)" stroke="#b8b8b8" stroke-opacity="0.45" stroke-width="2"/>
<path d="M146,444 C217.8,365.1 396.5,176.7 412,179" transform="translate(14.2,12.5)" stroke="#b8b8b8" stroke-opacity="0.55" stroke-width="2.2"/>
<path d="M146,444 C217.8,365.1 396.5,176.7 412,179" transform="translate(18.8,16.5)" stroke="#b8b8b8" stroke-opacity="0.45" stroke-width="2"/>
<path d="M146,444 C217.8,365.1 396.5,176.7 412,179" transform="translate(24.0,21.1)" stroke="#b8b8b8" stroke-opacity="0.4" stroke-width="2"/>
<path d="M146,444 C217.8,365.1 396.5,176.7 412,179" transform="translate(30.0,26.4)" stroke="#b8b8b8" stroke-opacity="0.35" stroke-width="2"/>
<path d="M146,444 C217.8,365.1 396.5,176.7 412,179" transform="translate(37.5,33.0)" stroke="#b8b8b8" stroke-opacity="0.3" stroke-width="2"/>
<path d="M146,444 C217.8,365.1 396.5,176.7 412,179" transform="translate(46.5,40.9)" stroke="#b8b8b8" stroke-opacity="0.25" stroke-width="2"/>
</g>
<g filter="url(#b2)" stroke="#a8a8a8" fill="none" stroke-width="2.4" stroke-opacity="0.45">
<path d="M25,425 C50,390 80,355 110,325"/>
<path d="M35,435 C60,400 90,365 118,332"/>
<path d="M60,438 C85,405 110,375 130,350"/>
</g>
<g filter="url(#b8)" fill="#a0a0a0" opacity="0.55">
<path d="M52,248 C75,222 110,202 160,188 C210,175 260,172 300,183 L312,196 C292,212 262,226 228,238 C190,250 150,257 110,257 C85,257 64,254 52,248 Z"/>
</g>
<g filter="url(#b3)" fill="#ffffff">
<path d="M52,249 C58,238 65,226 73,221 C80,216 88,213 95,211 C110,207 118,205 127,203 C145,197 160,191 178,186 C190,182 198,180 207,179 C225,177 240,177 254,178 C268,179 278,180 286,183 C295,185 302,187 305,190 C306,196 305,200 303,202 C297,206 292,209 286,211 C275,216 265,220 254,224 C242,229 232,233 222,237 C212,241 200,245 190,246 C180,248 170,249 159,249.5 C140,250 110,250 95,250 C80,250 65,250 52,249 Z"/>
</g>
<g filter="url(#b3)" fill="#8a8a8a" opacity="0.6">
<ellipse cx="197" cy="238" rx="8" ry="6" fill="#2a2a2a"/>
<path d="M145,218 C165,208 185,202 205,198 C188,207 165,214 145,218 Z"/>
<path d="M150,232 C172,222 195,214 222,208 C200,220 175,228 150,232 Z"/>
<path d="M160,244 C178,238 190,234 205,231 C192,240 175,244 160,244 Z"/>
<path d="M205,228 C222,220 240,214 255,212 C240,222 222,228 205,228 Z"/>
</g>
</g>
<rect x="2" y="412" width="130" height="26" fill="#000"/>
<text x="5.0" y="431.5" font-size="20.9" font-weight="bold" font-style="normal" text-anchor="start" fill="#fff" >Jupiter–GFP</text>
<rect x="363" y="419.5" width="27" height="9" fill="#fff"/>
<line x1="264.4" y1="76.0" x2="264.4" y2="110.0" stroke="#fff" stroke-width="3.6" />
<polygon points="255.6,106 273.2,106 264.4,121.7" fill="#fff"/>
<line x1="287.0" y1="76.0" x2="287.0" y2="110.0" stroke="#fff" stroke-width="3.6" />
<polygon points="278.2,106 295.8,106 287,121.7" fill="#fff"/>
<polygon points="31,245 50,245.5 37,258" fill="#ffe800"/>
<polygon points="326,188.6 345,189.6 339.2,177.2" fill="#ffe800"/>
<text x="1.2" y="483.1" font-size="33" font-weight="bold" font-style="normal" text-anchor="start" fill="#000" >b</text>
<g stroke="#000" stroke-width="1.4" fill="none">
<line x1="126.0" y1="678.7" x2="83.3" y2="602.7" stroke="#000" stroke-width="1.4" />
<line x1="126.0" y1="678.7" x2="76.7" y2="612.7" stroke="#000" stroke-width="1.4" />
<line x1="126.0" y1="678.7" x2="119.3" y2="590.0" stroke="#000" stroke-width="1.4" />
<line x1="126.0" y1="678.7" x2="72.7" y2="663.7" stroke="#000" stroke-width="1.4" />
<line x1="126.0" y1="678.7" x2="79.3" y2="726.0" stroke="#000" stroke-width="1.4" />
<line x1="126.0" y1="678.7" x2="139.0" y2="782.3" stroke="#000" stroke-width="1.4" />
<line x1="126.0" y1="678.7" x2="216.7" y2="625.0" stroke="#000" stroke-width="1.4" />
<line x1="126.0" y1="678.7" x2="218.3" y2="636.7" stroke="#000" stroke-width="1.4" />
<line x1="126.0" y1="678.7" x2="226.7" y2="676.7" stroke="#000" stroke-width="1.4" />
<line x1="126.0" y1="678.7" x2="226.7" y2="687.3" stroke="#000" stroke-width="1.4" />
<line x1="331.7" y1="636.7" x2="288.3" y2="538.7" stroke="#000" stroke-width="1.4" />
<line x1="331.7" y1="636.7" x2="333.3" y2="567.3" stroke="#000" stroke-width="1.4" />
<line x1="331.7" y1="636.7" x2="365.7" y2="597.3" stroke="#000" stroke-width="1.4" />
<line x1="331.7" y1="636.7" x2="376.0" y2="656.0" stroke="#000" stroke-width="1.4" />
<line x1="331.7" y1="636.7" x2="346.7" y2="725.0" stroke="#000" stroke-width="1.4" />
<line x1="331.7" y1="636.7" x2="236.0" y2="621.0" stroke="#000" stroke-width="1.4" />
<line x1="331.7" y1="636.7" x2="239.3" y2="634.0" stroke="#000" stroke-width="1.4" />
<line x1="331.7" y1="636.7" x2="245.0" y2="666.7" stroke="#000" stroke-width="1.4" />
<line x1="331.7" y1="636.7" x2="247.3" y2="683.3" stroke="#000" stroke-width="1.4" />
</g>
<line x1="226.7" y1="622.7" x2="237.3" y2="686.7" stroke="#ff8000" stroke-width="20" stroke-linecap="round"/>
<circle cx="126" cy="678.7" r="10" fill="#000"/>
<circle cx="331.7" cy="636.7" r="10" fill="#000"/>
<line x1="35.0" y1="617.2" x2="74.0" y2="603.6" stroke="#ee1111" stroke-width="3.8" />
<polyline points="64.5,600.8 76.5,602.6 69.6,611.6" fill="none" stroke="#ee1111" stroke-width="4.4" stroke-linejoin="miter" stroke-miterlimit="10"/>
<line x1="35.5" y1="625.2" x2="72.5" y2="618.8" stroke="#ee1111" stroke-width="3.8" />
<polyline points="62.8,613.6 74.5,618.3 64.2,626.6" fill="none" stroke="#ee1111" stroke-width="4.4" stroke-linejoin="miter" stroke-miterlimit="10"/>
<line x1="35.5" y1="632.6" x2="70.0" y2="656.8" stroke="#ee1111" stroke-width="3.8" />
<polyline points="57.6,656.6 71.2,657.8 66.2,645.4" fill="none" stroke="#ee1111" stroke-width="4.4" stroke-linejoin="miter" stroke-miterlimit="10"/>
<text x="6.0" y="634.0" font-size="24.4" font-weight="normal" font-style="normal" text-anchor="start" fill="#000" >N</text>
<line x1="162.0" y1="751.0" x2="317.0" y2="720.0" stroke="#ee1111" stroke-width="4" />
<polygon points="152.8,752.8 167.6,741.3 164,750.3 171.5,759" fill="#ee1111"/>
<polygon points="326.6,718.1 309,710.5 315,719.8 312.5,728.8" fill="#ee1111"/>
<text x="248.0" y="761.4" font-size="23" font-weight="normal" font-style="normal" text-anchor="start" fill="#000" >L</text>
<path d="M342,661.5 C352,657 368,648 372.5,634 C376,620 370,608 358,603 C350,600.5 343,600.5 336,601" stroke="#ee1111" stroke-width="3.6" fill="none"/>
<polygon points="319.5,600.9 342.2,588.6 336.3,601.3 341.8,611.8" fill="#ee1111"/>
<text transform="translate(380.9,627.7)" font-size="30" font-family="Liberation Serif, serif">Φ</text>
<line x1="338.2" y1="649.0" x2="371.5" y2="708.5" stroke="#22ee22" stroke-width="4" />
<polyline points="363.8,707.6 372.7,710.8 374.4,701.6" fill="none" stroke="#22ee22" stroke-width="3.6" stroke-linejoin="miter" stroke-miterlimit="10"/>
<text transform="translate(376.8,731) scale(1.35,1)" font-size="25" font-family="Liberation Serif, serif">α</text>
<text x="472.7" y="23.6" font-size="33" font-weight="bold" font-style="normal" text-anchor="start" fill="#000" >c</text>
<defs><clipPath id="clipc"><rect x="525.5" y="46.2" width="347.2" height="346.6"/></clipPath></defs>
<g clip-path="url(#clipc)" fill="none" stroke-linejoin="round">
<polyline points="525.5,392.8 525.5,390.3 529.0,387.8 529.2,385.4 530.3,382.9 534.4,380.4 537.0,377.9 537.4,375.5 537.5,373.0 537.6,370.5 538.1,368.0 538.1,365.6 539.4,363.1 539.5,360.6 543.1,358.1 543.3,355.7 543.6,353.2 544.3,350.7 545.9,348.2 546.5,345.8 547.6,343.3 547.7,340.8 548.0,338.3 548.9,335.9 550.2,333.4 550.4,330.9 551.3,328.4 551.3,326.0 551.9,323.5 553.5,321.0 553.6,318.5 554.2,316.1 555.0,313.6 557.7,311.1 558.1,308.6 558.3,306.1 558.5,303.7 558.7,301.2 559.5,298.7 561.6,296.2 561.6,293.8 564.6,291.3 565.4,288.8 567.0,286.3 567.8,283.9 568.3,281.4 569.9,278.9 570.2,276.4 573.3,274.0 576.4,271.5 576.7,269.0 578.2,266.5 580.1,264.1 580.8,261.6 580.9,259.1 584.5,256.6 584.8,254.2 586.0,251.7 586.1,249.2 586.2,246.7 586.7,244.3 590.1,241.8 592.1,239.3 592.1,236.8 592.7,234.4 593.8,231.9 597.7,229.4 597.8,226.9 598.0,224.5 598.7,222.0 600.3,219.5 602.4,217.0 605.4,214.5 606.8,212.1 608.7,209.6 609.4,207.1 610.6,204.6 612.5,202.2 614.8,199.7 620.3,197.2 621.2,194.7 622.8,192.3 623.0,189.8 623.6,187.3 628.0,184.8 630.9,182.4 641.8,179.9 642.0,177.4 645.4,174.9 648.4,172.5 654.3,170.0 654.6,167.5 660.2,165.0 667.7,162.6 671.7,160.1 677.4,157.6 679.9,155.1 682.9,152.7 685.4,150.2 685.7,147.7 689.3,145.2 690.2,142.8 690.4,140.3 693.4,137.8 695.4,135.3 696.9,132.9 699.6,130.4 705.2,127.9 710.0,125.4 714.7,122.9 716.2,120.5 722.0,118.0 731.1,115.5 731.6,113.0 742.0,110.6 744.8,108.1 753.4,105.6 754.0,103.1 762.3,100.7 765.8,98.2 769.7,95.7 771.2,93.2 771.9,90.8 773.3,88.3 774.5,85.8 774.5,83.3 778.1,80.9 778.8,78.4 779.2,75.9 780.6,73.4 783.3,71.0 790.1,68.5 792.4,66.0 797.3,63.5 804.1,61.1 815.0,58.6 823.0,56.1 837.8,53.6 848.7,51.2 861.7,48.7 872.7,46.2" stroke="#000000" stroke-width="2.2"/>
<polyline points="525.5,392.8 526.6,390.3 527.1,387.8 527.5,385.4 529.3,382.9 531.1,380.4 532.5,377.9 534.3,375.5 535.1,373.0 536.1,370.5 536.8,368.0 537.9,365.6 538.1,363.1 539.4,360.6 541.1,358.1 541.7,355.7 542.5,353.2 542.8,350.7 542.9,348.2 543.8,345.8 544.2,343.3 545.6,340.8 546.1,338.3 546.9,335.9 547.9,333.4 548.4,330.9 549.3,328.4 550.1,326.0 550.3,323.5 551.3,321.0 551.3,318.5 552.6,316.1 553.1,313.6 553.2,311.1 553.5,308.6 555.1,306.1 555.5,303.7 556.6,301.2 557.0,298.7 557.7,296.2 558.5,293.8 559.1,291.3 559.3,288.8 561.5,286.3 562.6,283.9 563.1,281.4 565.2,278.9 567.4,276.4 568.0,274.0 568.8,271.5 569.4,269.0 570.8,266.5 575.4,264.1 576.5,261.6 576.6,259.1 578.4,256.6 581.0,254.2 581.5,251.7 582.0,249.2 588.7,246.7 589.0,244.3 589.5,241.8 590.4,239.3 593.2,236.8 594.6,234.4 595.2,231.9 595.3,229.4 597.2,226.9 600.4,224.5 600.4,222.0 600.8,219.5 602.8,217.0 606.5,214.5 608.9,212.1 610.3,209.6 612.3,207.1 612.4,204.6 615.3,202.2 616.4,199.7 616.5,197.2 621.9,194.7 626.5,192.3 627.9,189.8 628.1,187.3 628.3,184.8 632.0,182.4 632.5,179.9 633.6,177.4 634.1,174.9 638.8,172.5 641.9,170.0 646.0,167.5 646.8,165.0 648.5,162.6 650.8,160.1 652.5,157.6 654.3,155.1 658.8,152.7 659.2,150.2 660.9,147.7 664.6,145.2 666.0,142.8 668.3,140.3 670.1,137.8 672.6,135.3 678.1,132.9 679.9,130.4 680.5,127.9 680.7,125.4 681.1,122.9 692.5,120.5 693.5,118.0 696.6,115.5 702.7,113.0 705.9,110.6 716.9,108.1 719.5,105.6 724.0,103.1 730.6,100.7 737.2,98.2 737.4,95.7 747.5,93.2 748.6,90.8 749.9,88.3 757.3,85.8 758.8,83.3 766.0,80.9 767.9,78.4 775.5,75.9 782.8,73.4 783.0,71.0 789.8,68.5 790.4,66.0 802.5,63.5 809.0,61.1 814.7,58.6 817.5,56.1 831.8,53.6 843.7,51.2 855.2,48.7 872.5,46.2" stroke="#5a0505" stroke-width="2.2"/>
<polyline points="525.5,392.8 527.0,390.3 527.0,387.8 528.8,385.4 529.3,382.9 530.1,380.4 530.8,377.9 534.1,375.5 535.3,373.0 535.4,370.5 535.4,368.0 537.7,365.6 538.4,363.1 539.3,360.6 539.4,358.1 539.8,355.7 539.9,353.2 540.6,350.7 541.4,348.2 542.8,345.8 543.8,343.3 544.4,340.8 545.2,338.3 546.2,335.9 546.5,333.4 546.7,330.9 548.4,328.4 548.7,326.0 549.2,323.5 549.6,321.0 549.7,318.5 550.3,316.1 552.4,313.6 552.7,311.1 554.0,308.6 554.1,306.1 554.6,303.7 555.0,301.2 555.0,298.7 556.0,296.2 557.8,293.8 558.7,291.3 558.8,288.8 560.0,286.3 560.5,283.9 563.6,281.4 564.6,278.9 568.8,276.4 569.1,274.0 571.5,271.5 572.7,269.0 573.3,266.5 573.8,264.1 576.3,261.6 576.6,259.1 579.3,256.6 580.7,254.2 580.9,251.7 583.2,249.2 586.1,246.7 589.2,244.3 589.8,241.8 590.0,239.3 590.3,236.8 590.5,234.4 592.4,231.9 593.1,229.4 595.7,226.9 597.6,224.5 597.8,222.0 602.3,219.5 602.5,217.0 603.5,214.5 605.1,212.1 606.7,209.6 608.8,207.1 611.0,204.6 611.4,202.2 611.7,199.7 612.8,197.2 616.5,194.7 616.6,192.3 616.6,189.8 618.3,187.3 618.5,184.8 623.4,182.4 623.4,179.9 625.2,177.4 626.0,174.9 627.7,172.5 629.5,170.0 630.4,167.5 632.4,165.0 634.9,162.6 636.5,160.1 637.1,157.6 637.6,155.1 639.0,152.7 639.9,150.2 641.2,147.7 644.7,145.2 649.3,142.8 651.0,140.3 651.4,137.8 652.9,135.3 655.8,132.9 660.7,130.4 664.3,127.9 665.5,125.4 666.0,122.9 667.0,120.5 669.0,118.0 669.4,115.5 671.5,113.0 677.0,110.6 679.9,108.1 680.0,105.6 683.1,103.1 684.2,100.7 694.7,98.2 698.2,95.7 704.7,93.2 716.1,90.8 721.0,88.3 728.7,85.8 733.5,83.3 737.6,80.9 747.7,78.4 751.3,75.9 760.4,73.4 762.8,71.0 772.0,68.5 773.4,66.0 779.8,63.5 786.1,61.1 801.1,58.6 809.8,56.1 815.5,53.6 829.4,51.2 842.0,48.7 872.7,46.2" stroke="#804010" stroke-width="2.2"/>
<polyline points="525.5,392.8 525.5,390.3 527.5,387.8 529.1,385.4 530.4,382.9 531.7,380.4 533.2,377.9 534.0,375.5 534.2,373.0 534.7,370.5 535.4,368.0 535.8,365.6 537.0,363.1 537.7,360.6 538.0,358.1 538.6,355.7 539.3,353.2 540.0,350.7 541.4,348.2 542.4,345.8 543.0,343.3 545.0,340.8 545.7,338.3 545.8,335.9 546.3,333.4 546.3,330.9 547.1,328.4 547.7,326.0 548.9,323.5 549.2,321.0 550.0,318.5 550.1,316.1 550.5,313.6 551.0,311.1 552.4,308.6 553.1,306.1 553.9,303.7 554.1,301.2 555.8,298.7 555.8,296.2 555.8,293.8 557.8,291.3 557.9,288.8 558.1,286.3 559.4,283.9 559.5,281.4 560.4,278.9 561.1,276.4 563.3,274.0 569.4,271.5 572.6,269.0 572.6,266.5 574.1,264.1 574.7,261.6 575.1,259.1 576.6,256.6 576.7,254.2 577.4,251.7 578.5,249.2 579.9,246.7 584.3,244.3 585.7,241.8 587.2,239.3 588.1,236.8 589.8,234.4 591.7,231.9 592.6,229.4 594.5,226.9 594.7,224.5 595.5,222.0 596.6,219.5 597.2,217.0 601.6,214.5 604.7,212.1 605.4,209.6 605.5,207.1 605.6,204.6 608.6,202.2 610.4,199.7 613.7,197.2 615.3,194.7 616.6,192.3 616.8,189.8 617.9,187.3 621.9,184.8 625.5,182.4 626.4,179.9 628.6,177.4 629.8,174.9 630.9,172.5 633.2,170.0 635.0,167.5 639.9,165.0 641.5,162.6 644.4,160.1 647.3,157.6 652.6,155.1 654.5,152.7 655.3,150.2 659.5,147.7 663.9,145.2 667.7,142.8 672.5,140.3 675.0,137.8 676.0,135.3 676.5,132.9 677.1,130.4 680.7,127.9 682.2,125.4 684.0,122.9 684.2,120.5 684.7,118.0 688.0,115.5 693.1,113.0 697.3,110.6 698.1,108.1 712.5,105.6 724.3,103.1 730.6,100.7 741.9,98.2 753.3,95.7 754.7,93.2 764.9,90.8 769.4,88.3 773.3,85.8 778.4,83.3 779.2,80.9 783.0,78.4 788.6,75.9 793.4,73.4 802.4,71.0 807.2,68.5 808.4,66.0 808.6,63.5 810.2,61.1 819.3,58.6 822.1,56.1 829.7,53.6 842.3,51.2 850.9,48.7 872.7,46.2" stroke="#820808" stroke-width="2.2"/>
<polyline points="525.5,392.8 525.5,390.3 525.5,387.8 529.2,385.4 529.7,382.9 532.2,380.4 538.4,377.9 539.8,375.5 539.9,373.0 542.8,370.5 544.8,368.0 545.1,365.6 548.0,363.1 551.9,360.6 551.9,358.1 556.0,355.7 559.1,353.2 562.8,350.7 563.4,348.2 566.0,345.8 566.3,343.3 568.5,340.8 572.0,338.3 572.1,335.9 577.4,333.4 579.4,330.9 581.1,328.4 583.2,326.0 584.6,323.5 585.3,321.0 585.6,318.5 585.8,316.1 588.3,313.6 591.6,311.1 592.2,308.6 593.5,306.1 596.9,303.7 597.6,301.2 598.0,298.7 599.3,296.2 601.4,293.8 601.4,291.3 601.6,288.8 602.9,286.3 603.2,283.9 603.3,281.4 604.9,278.9 607.0,276.4 607.7,274.0 610.9,271.5 612.7,269.0 614.6,266.5 621.4,264.1 623.4,261.6 624.3,259.1 625.7,256.6 626.3,254.2 628.0,251.7 629.2,249.2 630.7,246.7 632.9,244.3 634.6,241.8 638.0,239.3 638.1,236.8 638.4,234.4 640.6,231.9 641.2,229.4 642.9,226.9 647.0,224.5 647.7,222.0 648.3,219.5 653.8,217.0 654.2,214.5 654.2,212.1 654.5,209.6 657.4,207.1 661.8,204.6 662.7,202.2 666.3,199.7 666.8,197.2 667.2,194.7 673.9,192.3 674.3,189.8 675.3,187.3 677.6,184.8 680.2,182.4 681.0,179.9 687.1,177.4 688.4,174.9 691.9,172.5 696.4,170.0 700.3,167.5 701.6,165.0 704.5,162.6 715.8,160.1 716.5,157.6 717.5,155.1 726.4,152.7 732.2,150.2 739.0,147.7 739.8,145.2 740.3,142.8 745.0,140.3 750.4,137.8 755.1,135.3 758.4,132.9 758.7,130.4 767.3,127.9 773.2,125.4 776.6,122.9 778.4,120.5 780.1,118.0 782.8,115.5 783.7,113.0 786.0,110.6 787.3,108.1 790.5,105.6 792.9,103.1 793.6,100.7 800.6,98.2 803.0,95.7 806.8,93.2 807.7,90.8 813.9,88.3 816.1,85.8 817.3,83.3 823.4,80.9 830.6,78.4 833.3,75.9 838.0,73.4 843.9,71.0 846.5,68.5 847.0,66.0 849.5,63.5 854.1,61.1 858.7,58.6 860.1,56.1 867.8,53.6 868.4,51.2 868.5,48.7 872.7,46.2" stroke="#2aee2a" stroke-width="2.2"/>
<polyline points="525.5,392.8 527.2,390.3 527.3,387.8 528.6,385.4 530.8,382.9 531.7,380.4 531.7,377.9 534.5,375.5 535.8,373.0 538.9,370.5 539.7,368.0 540.4,365.6 540.6,363.1 543.8,360.6 547.0,358.1 548.9,355.7 549.6,353.2 554.4,350.7 555.2,348.2 557.9,345.8 559.0,343.3 561.7,340.8 563.9,338.3 568.0,335.9 571.4,333.4 573.6,330.9 576.3,328.4 578.0,326.0 580.2,323.5 581.4,321.0 582.4,318.5 584.4,316.1 585.5,313.6 585.8,311.1 590.3,308.6 591.0,306.1 591.6,303.7 591.6,301.2 597.0,298.7 597.1,296.2 597.8,293.8 601.3,291.3 603.8,288.8 607.4,286.3 607.4,283.9 610.1,281.4 610.1,278.9 610.3,276.4 610.7,274.0 612.8,271.5 618.7,269.0 623.5,266.5 624.7,264.1 627.8,261.6 627.9,259.1 631.9,256.6 635.0,254.2 637.5,251.7 638.5,249.2 638.9,246.7 639.8,244.3 642.8,241.8 643.2,239.3 646.4,236.8 647.9,234.4 650.4,231.9 651.6,229.4 652.5,226.9 653.5,224.5 653.6,222.0 659.7,219.5 663.7,217.0 666.1,214.5 666.8,212.1 670.6,209.6 671.3,207.1 672.7,204.6 673.0,202.2 673.5,199.7 675.7,197.2 677.4,194.7 680.7,192.3 683.0,189.8 683.8,187.3 693.0,184.8 694.2,182.4 694.3,179.9 700.2,177.4 700.3,174.9 702.1,172.5 708.9,170.0 711.5,167.5 713.8,165.0 720.4,162.6 727.4,160.1 734.6,157.6 735.8,155.1 736.5,152.7 736.7,150.2 744.7,147.7 746.4,145.2 748.4,142.8 750.6,140.3 758.0,137.8 762.9,135.3 766.0,132.9 767.0,130.4 771.4,127.9 775.0,125.4 779.4,122.9 780.1,120.5 780.8,118.0 784.5,115.5 786.7,113.0 787.5,110.6 788.2,108.1 792.5,105.6 794.8,103.1 798.2,100.7 798.7,98.2 805.1,95.7 805.4,93.2 809.0,90.8 811.7,88.3 814.8,85.8 817.0,83.3 821.6,80.9 823.4,78.4 831.7,75.9 834.6,73.4 839.7,71.0 843.1,68.5 849.3,66.0 849.5,63.5 850.3,61.1 859.1,58.6 860.3,56.1 861.2,53.6 865.1,51.2 869.8,48.7 871.7,46.2" stroke="#ff8811" stroke-width="2.2"/>
<polyline points="525.5,392.8 526.5,390.3 528.5,387.8 531.2,385.4 532.1,382.9 535.4,380.4 539.3,377.9 540.3,375.5 541.3,373.0 541.3,370.5 545.2,368.0 548.5,365.6 550.8,363.1 550.8,360.6 552.8,358.1 561.3,355.7 563.3,353.2 564.1,350.7 564.4,348.2 568.7,345.8 571.7,343.3 574.2,340.8 576.1,338.3 576.3,335.9 576.5,333.4 579.4,330.9 580.6,328.4 587.1,326.0 587.1,323.5 588.2,321.0 590.6,318.5 590.7,316.1 593.3,313.6 595.1,311.1 595.5,308.6 595.7,306.1 597.1,303.7 600.7,301.2 600.8,298.7 601.1,296.2 603.9,293.8 604.5,291.3 605.0,288.8 607.7,286.3 609.9,283.9 614.5,281.4 616.7,278.9 617.3,276.4 618.1,274.0 618.2,271.5 621.3,269.0 624.6,266.5 624.7,264.1 625.2,261.6 625.7,259.1 629.7,256.6 632.0,254.2 633.7,251.7 634.6,249.2 636.1,246.7 639.0,244.3 642.5,241.8 643.0,239.3 645.0,236.8 645.4,234.4 646.3,231.9 646.8,229.4 647.6,226.9 653.6,224.5 654.9,222.0 657.2,219.5 658.5,217.0 659.7,214.5 659.9,212.1 660.5,209.6 664.1,207.1 666.1,204.6 667.7,202.2 668.8,199.7 668.9,197.2 672.0,194.7 675.3,192.3 676.0,189.8 676.1,187.3 676.3,184.8 681.4,182.4 681.9,179.9 686.5,177.4 688.6,174.9 689.2,172.5 690.5,170.0 695.8,167.5 696.5,165.0 702.7,162.6 704.9,160.1 709.0,157.6 711.6,155.1 718.0,152.7 718.1,150.2 727.8,147.7 731.6,145.2 734.9,142.8 735.4,140.3 737.7,137.8 742.0,135.3 744.1,132.9 749.6,130.4 751.9,127.9 756.0,125.4 760.4,122.9 770.1,120.5 771.5,118.0 772.0,115.5 773.6,113.0 778.9,110.6 779.4,108.1 783.0,105.6 787.3,103.1 788.4,100.7 790.8,98.2 795.7,95.7 797.3,93.2 800.7,90.8 805.1,88.3 806.6,85.8 810.2,83.3 814.5,80.9 818.9,78.4 821.9,75.9 827.1,73.4 833.4,71.0 833.7,68.5 842.3,66.0 847.8,63.5 849.1,61.1 856.4,58.6 861.7,56.1 865.3,53.6 868.3,51.2 868.9,48.7 871.6,46.2" stroke="#808000" stroke-width="2.2"/>
<polyline points="525.5,392.8 531.1,390.3 531.6,387.8 532.9,385.4 536.9,382.9 539.0,380.4 539.0,377.9 543.4,375.5 546.9,373.0 548.5,370.5 552.8,368.0 556.4,365.6 558.7,363.1 565.0,360.6 567.5,358.1 567.8,355.7 574.0,353.2 577.1,350.7 579.5,348.2 580.4,345.8 580.5,343.3 582.5,340.8 584.8,338.3 585.9,335.9 588.6,333.4 588.6,330.9 589.9,328.4 590.3,326.0 595.1,323.5 597.0,321.0 600.0,318.5 602.5,316.1 603.0,313.6 603.2,311.1 604.4,308.6 605.1,306.1 606.1,303.7 607.7,301.2 608.6,298.7 612.2,296.2 612.5,293.8 612.8,291.3 615.3,288.8 615.9,286.3 617.1,283.9 617.6,281.4 623.2,278.9 624.8,276.4 627.9,274.0 628.4,271.5 631.0,269.0 631.7,266.5 633.1,264.1 633.5,261.6 633.6,259.1 635.7,256.6 635.9,254.2 636.9,251.7 638.7,249.2 639.7,246.7 640.2,244.3 640.8,241.8 641.7,239.3 643.8,236.8 645.4,234.4 648.2,231.9 649.1,229.4 651.6,226.9 652.6,224.5 654.4,222.0 655.1,219.5 655.2,217.0 655.4,214.5 656.3,212.1 660.7,209.6 660.9,207.1 663.0,204.6 663.5,202.2 664.7,199.7 665.4,197.2 667.1,194.7 667.9,192.3 671.0,189.8 673.9,187.3 674.4,184.8 677.0,182.4 678.6,179.9 678.8,177.4 679.8,174.9 683.6,172.5 686.1,170.0 687.1,167.5 687.6,165.0 689.8,162.6 697.5,160.1 699.9,157.6 705.4,155.1 707.8,152.7 709.8,150.2 715.2,147.7 719.3,145.2 735.4,142.8 736.6,140.3 738.3,137.8 741.2,135.3 748.6,132.9 751.6,130.4 752.3,127.9 753.4,125.4 755.8,122.9 762.9,120.5 766.9,118.0 773.6,115.5 773.8,113.0 780.3,110.6 780.6,108.1 782.5,105.6 786.1,103.1 789.5,100.7 791.4,98.2 792.5,95.7 795.2,93.2 801.6,90.8 805.3,88.3 806.3,85.8 806.3,83.3 811.5,80.9 819.0,78.4 821.7,75.9 828.8,73.4 832.7,71.0 839.5,68.5 845.2,66.0 849.6,63.5 850.0,61.1 851.0,58.6 860.8,56.1 862.2,53.6 864.4,51.2 869.6,48.7 872.7,46.2" stroke="#b4be00" stroke-width="2.2"/>
</g>
<rect x="525.5" y="46.2" width="347.2" height="346.6" fill="none" stroke="#000" stroke-width="2"/>
<line x1="520.5" y1="392.8" x2="525.5" y2="392.8" stroke="#000" stroke-width="2" />
<line x1="520.5" y1="358.1" x2="525.5" y2="358.1" stroke="#000" stroke-width="2" />
<line x1="520.5" y1="323.5" x2="525.5" y2="323.5" stroke="#000" stroke-width="2" />
<line x1="520.5" y1="288.8" x2="525.5" y2="288.8" stroke="#000" stroke-width="2" />
<line x1="520.5" y1="254.2" x2="525.5" y2="254.2" stroke="#000" stroke-width="2" />
<line x1="520.5" y1="219.5" x2="525.5" y2="219.5" stroke="#000" stroke-width="2" />
<line x1="520.5" y1="184.8" x2="525.5" y2="184.8" stroke="#000" stroke-width="2" />
<line x1="520.5" y1="150.2" x2="525.5" y2="150.2" stroke="#000" stroke-width="2" />
<line x1="520.5" y1="115.5" x2="525.5" y2="115.5" stroke="#000" stroke-width="2" />
<line x1="520.5" y1="80.9" x2="525.5" y2="80.9" stroke="#000" stroke-width="2" />
<line x1="520.5" y1="46.2" x2="525.5" y2="46.2" stroke="#000" stroke-width="2" />
<line x1="525.5" y1="392.8" x2="525.5" y2="397.8" stroke="#000" stroke-width="2" />
<line x1="564.1" y1="392.8" x2="564.1" y2="397.8" stroke="#000" stroke-width="2" />
<line x1="602.7" y1="392.8" x2="602.7" y2="397.8" stroke="#000" stroke-width="2" />
<line x1="641.2" y1="392.8" x2="641.2" y2="397.8" stroke="#000" stroke-width="2" />
<line x1="679.8" y1="392.8" x2="679.8" y2="397.8" stroke="#000" stroke-width="2" />
<line x1="718.4" y1="392.8" x2="718.4" y2="397.8" stroke="#000" stroke-width="2" />
<line x1="757.0" y1="392.8" x2="757.0" y2="397.8" stroke="#000" stroke-width="2" />
<line x1="795.5" y1="392.8" x2="795.5" y2="397.8" stroke="#000" stroke-width="2" />
<line x1="834.1" y1="392.8" x2="834.1" y2="397.8" stroke="#000" stroke-width="2" />
<line x1="872.7" y1="392.8" x2="872.7" y2="397.8" stroke="#000" stroke-width="2" />
<text x="519.0" y="401.4" font-size="21.1" font-weight="normal" font-style="normal" text-anchor="end" fill="#000" >0</text>
<text x="519.0" y="332.1" font-size="21.1" font-weight="normal" font-style="normal" text-anchor="end" fill="#000" >20</text>
<text x="519.0" y="262.8" font-size="21.1" font-weight="normal" font-style="normal" text-anchor="end" fill="#000" >40</text>
<text x="519.0" y="193.4" font-size="21.1" font-weight="normal" font-style="normal" text-anchor="end" fill="#000" >60</text>
<text x="519.0" y="124.1" font-size="21.1" font-weight="normal" font-style="normal" text-anchor="end" fill="#000" >80</text>
<text x="519.0" y="54.8" font-size="21.1" font-weight="normal" font-style="normal" text-anchor="end" fill="#000" >100</text>
<text x="525.5" y="414.2" font-size="21.1" font-weight="normal" font-style="normal" text-anchor="middle" fill="#000" >0</text>
<text x="641.2" y="414.2" font-size="21.1" font-weight="normal" font-style="normal" text-anchor="middle" fill="#000" >30</text>
<text x="757.0" y="414.2" font-size="21.1" font-weight="normal" font-style="normal" text-anchor="middle" fill="#000" >60</text>
<text x="872.7" y="414.2" font-size="21.1" font-weight="normal" font-style="normal" text-anchor="middle" fill="#000" >90</text>
<text x="0" y="0" font-size="21.2" text-anchor="middle" transform="translate(488.7,219.5) rotate(-90)">cumulative percentage</text>
<text x="558.8" y="435.8" font-size="21.1" font-weight="normal" font-style="normal" text-anchor="start" fill="#000" >deviation</text>
<text transform="translate(649.0,435.8) scale(1.25,1)" font-size="20.1">θ</text>
<text x="662.4" y="438.8" font-size="17.2" font-weight="normal" font-style="normal" text-anchor="start" fill="#000" >theory</text>
<text x="714.8" y="435.8" font-size="21.1" font-weight="normal" font-style="normal" text-anchor="start" fill="#000" >-</text>
<text transform="translate(723.8,435.8) scale(1.25,1)" font-size="20.1">θ</text>
<text x="738.5" y="438.8" font-size="21.0" font-weight="normal" font-style="normal" text-anchor="start" fill="#000" >division</text>
<text x="812.1" y="435.8" font-size="21.1" font-weight="normal" font-style="normal" text-anchor="start" fill="#000" >(°)</text>
<text x="534.3" y="67.9" font-size="21.1" font-weight="bold" font-style="normal" text-anchor="start" fill="#000" >spindle length</text>
<text x="534.9" y="92.4" font-size="21.1"><tspan font-style="italic">n</tspan>=140</text>
<text x="657.8" y="275.4" font-size="20.8" font-weight="bold" font-style="normal" text-anchor="start" fill="#000" >GFP–Mud</text>
<text x="867.5" y="275.4" font-size="20.8" font-weight="bold" font-style="normal" text-anchor="end" fill="#000" >shape</text>
<line x1="689.2" y1="296.8" x2="711.3" y2="296.8" stroke="#000000" stroke-width="4.4" />
<line x1="824.1" y1="296.8" x2="846.2" y2="296.8" stroke="#2aee2a" stroke-width="4" />
<text x="723.0" y="302.5" font-size="21.1" font-weight="normal" font-style="normal" text-anchor="start" fill="#000" >L=Lexp</text>
<line x1="689.2" y1="323.2" x2="711.3" y2="323.2" stroke="#5a0505" stroke-width="4" />
<line x1="824.1" y1="323.2" x2="846.2" y2="323.2" stroke="#ff8811" stroke-width="4" />
<text x="723.0" y="328.9" font-size="21.1" font-weight="normal" font-style="normal" text-anchor="start" fill="#000" >L=Lexp/2</text>
<line x1="689.2" y1="349.6" x2="711.3" y2="349.6" stroke="#804010" stroke-width="4" />
<line x1="824.1" y1="349.6" x2="846.2" y2="349.6" stroke="#808000" stroke-width="4" />
<text x="723.0" y="355.3" font-size="21.1" font-weight="normal" font-style="normal" text-anchor="start" fill="#000" >L=Lexp/4</text>
<line x1="689.2" y1="376.0" x2="711.3" y2="376.0" stroke="#820808" stroke-width="4" />
<line x1="824.1" y1="376.0" x2="846.2" y2="376.0" stroke="#b4be00" stroke-width="4" />
<text x="723.0" y="381.7" font-size="21.1" font-weight="normal" font-style="normal" text-anchor="start" fill="#000" >L=Lexp/8</text>
<text x="910.3" y="23.5" font-size="33" font-weight="bold" font-style="normal" text-anchor="start" fill="#000" >d</text>
<defs><clipPath id="clipd"><rect x="964.0" y="46.2" width="347.2" height="346.6"/></clipPath></defs>
<g clip-path="url(#clipd)" fill="none" stroke-linejoin="round">
<polyline points="964.0,392.8 964.0,390.3 964.0,387.8 967.6,385.4 969.4,382.9 969.5,380.4 971.4,377.9 971.8,375.5 974.2,373.0 975.9,370.5 979.8,368.0 980.2,365.6 980.5,363.1 981.5,360.6 983.3,358.1 984.4,355.7 984.7,353.2 986.1,350.7 986.8,348.2 986.9,345.8 987.0,343.3 987.2,340.8 988.7,338.3 988.7,335.9 990.2,333.4 990.5,330.9 990.5,328.4 991.9,326.0 992.1,323.5 992.5,321.0 993.5,318.5 996.5,316.1 997.2,313.6 997.4,311.1 998.3,308.6 999.0,306.1 999.7,303.7 1001.6,301.2 1001.8,298.7 1002.3,296.2 1003.6,293.8 1005.0,291.3 1005.1,288.8 1005.8,286.3 1006.4,283.9 1006.5,281.4 1008.9,278.9 1009.0,276.4 1009.4,274.0 1009.6,271.5 1009.8,269.0 1011.2,266.5 1012.1,264.1 1012.8,261.6 1013.7,259.1 1013.9,256.6 1016.1,254.2 1018.8,251.7 1018.9,249.2 1021.5,246.7 1023.6,244.3 1024.0,241.8 1027.2,239.3 1027.8,236.8 1028.3,234.4 1028.6,231.9 1031.2,229.4 1031.5,226.9 1032.7,224.5 1033.4,222.0 1036.0,219.5 1037.7,217.0 1039.1,214.5 1043.7,212.1 1044.0,209.6 1050.6,207.1 1050.9,204.6 1054.1,202.2 1057.7,199.7 1058.3,197.2 1058.7,194.7 1066.1,192.3 1067.6,189.8 1068.5,187.3 1071.8,184.8 1072.1,182.4 1073.3,179.9 1075.9,177.4 1079.9,174.9 1080.7,172.5 1081.5,170.0 1084.7,167.5 1087.1,165.0 1092.4,162.6 1096.0,160.1 1100.8,157.6 1101.2,155.1 1113.7,152.7 1114.0,150.2 1123.2,147.7 1129.7,145.2 1132.9,142.8 1143.2,140.3 1150.3,137.8 1151.6,135.3 1153.9,132.9 1162.4,130.4 1169.9,127.9 1172.4,125.4 1175.0,122.9 1185.9,120.5 1187.0,118.0 1194.7,115.5 1200.8,113.0 1206.1,110.6 1209.0,108.1 1213.5,105.6 1214.1,103.1 1216.7,100.7 1218.0,98.2 1222.1,95.7 1224.3,93.2 1227.5,90.8 1232.2,88.3 1233.0,85.8 1234.8,83.3 1238.9,80.9 1243.1,78.4 1244.4,75.9 1245.8,73.4 1249.4,71.0 1263.6,68.5 1264.9,66.0 1272.3,63.5 1278.5,61.1 1292.2,58.6 1302.9,56.1 1306.6,53.6 1308.5,51.2 1311.2,48.7 1311.2,46.2" stroke="#000000" stroke-width="2.2"/>
<polyline points="964.0,392.8 964.0,390.3 964.0,387.8 965.5,385.4 967.3,382.9 967.7,380.4 969.6,377.9 970.2,375.5 971.0,373.0 974.2,370.5 975.2,368.0 975.5,365.6 976.7,363.1 976.9,360.6 977.3,358.1 977.8,355.7 978.0,353.2 983.3,350.7 983.4,348.2 983.5,345.8 984.7,343.3 986.9,340.8 987.6,338.3 987.6,335.9 988.5,333.4 989.0,330.9 990.3,328.4 990.8,326.0 992.4,323.5 993.0,321.0 993.1,318.5 994.1,316.1 994.6,313.6 994.7,311.1 994.9,308.6 995.1,306.1 995.9,303.7 996.2,301.2 998.8,298.7 998.9,296.2 1000.2,293.8 1000.8,291.3 1001.4,288.8 1001.5,286.3 1002.0,283.9 1003.5,281.4 1005.7,278.9 1006.0,276.4 1006.5,274.0 1008.0,271.5 1008.8,269.0 1008.9,266.5 1011.3,264.1 1012.0,261.6 1012.2,259.1 1013.6,256.6 1013.8,254.2 1016.0,251.7 1016.1,249.2 1018.5,246.7 1019.2,244.3 1023.6,241.8 1024.1,239.3 1024.2,236.8 1025.4,234.4 1028.0,231.9 1029.8,229.4 1031.0,226.9 1033.0,224.5 1036.3,222.0 1037.6,219.5 1038.0,217.0 1038.6,214.5 1042.6,212.1 1043.2,209.6 1047.5,207.1 1048.6,204.6 1049.9,202.2 1050.3,199.7 1050.9,197.2 1051.3,194.7 1053.7,192.3 1055.1,189.8 1055.8,187.3 1056.4,184.8 1057.5,182.4 1058.6,179.9 1063.8,177.4 1066.1,174.9 1070.0,172.5 1072.5,170.0 1072.9,167.5 1075.2,165.0 1077.7,162.6 1092.4,160.1 1095.3,157.6 1101.4,155.1 1101.5,152.7 1101.9,150.2 1105.2,147.7 1107.7,145.2 1109.9,142.8 1110.8,140.3 1117.3,137.8 1120.4,135.3 1124.5,132.9 1132.4,130.4 1135.6,127.9 1139.7,125.4 1144.6,122.9 1148.5,120.5 1149.6,118.0 1158.5,115.5 1158.6,113.0 1162.6,110.6 1164.3,108.1 1173.1,105.6 1179.1,103.1 1181.2,100.7 1189.7,98.2 1189.8,95.7 1193.4,93.2 1200.4,90.8 1201.0,88.3 1205.8,85.8 1211.9,83.3 1213.1,80.9 1214.8,78.4 1215.3,75.9 1215.8,73.4 1222.8,71.0 1222.9,68.5 1226.1,66.0 1231.9,63.5 1242.3,61.1 1244.0,58.6 1255.1,56.1 1266.7,53.6 1275.6,51.2 1291.5,48.7 1297.2,46.2" stroke="#5a0505" stroke-width="2.2"/>
<polyline points="964.0,392.8 964.0,390.3 967.0,387.8 968.8,385.4 971.0,382.9 971.6,380.4 971.9,377.9 972.3,375.5 974.5,373.0 975.5,370.5 976.7,368.0 976.8,365.6 977.9,363.1 978.0,360.6 978.3,358.1 978.4,355.7 980.9,353.2 983.8,350.7 984.0,348.2 984.1,345.8 984.6,343.3 985.8,340.8 986.3,338.3 986.6,335.9 988.6,333.4 989.0,330.9 989.3,328.4 989.4,326.0 990.4,323.5 992.9,321.0 994.3,318.5 994.9,316.1 996.1,313.6 997.8,311.1 998.1,308.6 998.2,306.1 998.3,303.7 998.9,301.2 998.9,298.7 999.2,296.2 1002.6,293.8 1003.2,291.3 1003.4,288.8 1005.2,286.3 1005.4,283.9 1007.7,281.4 1008.7,278.9 1008.9,276.4 1010.7,274.0 1012.0,271.5 1013.0,269.0 1014.4,266.5 1014.5,264.1 1014.6,261.6 1015.6,259.1 1017.6,256.6 1018.1,254.2 1025.1,251.7 1025.5,249.2 1025.6,246.7 1028.5,244.3 1030.4,241.8 1032.2,239.3 1032.5,236.8 1034.0,234.4 1034.9,231.9 1037.3,229.4 1039.6,226.9 1040.4,224.5 1040.4,222.0 1042.3,219.5 1044.5,217.0 1045.7,214.5 1046.0,212.1 1048.6,209.6 1049.2,207.1 1049.2,204.6 1049.8,202.2 1050.4,199.7 1051.5,197.2 1051.9,194.7 1053.1,192.3 1053.8,189.8 1055.0,187.3 1056.7,184.8 1061.0,182.4 1061.8,179.9 1064.0,177.4 1068.2,174.9 1071.7,172.5 1072.0,170.0 1074.1,167.5 1079.0,165.0 1083.8,162.6 1087.0,160.1 1095.5,157.6 1098.6,155.1 1100.7,152.7 1104.1,150.2 1104.9,147.7 1106.4,145.2 1110.6,142.8 1111.3,140.3 1113.1,137.8 1114.7,135.3 1121.5,132.9 1125.0,130.4 1128.4,127.9 1130.9,125.4 1139.2,122.9 1143.7,120.5 1144.0,118.0 1144.7,115.5 1153.5,113.0 1156.9,110.6 1159.7,108.1 1162.0,105.6 1169.9,103.1 1174.2,100.7 1176.7,98.2 1181.2,95.7 1183.1,93.2 1192.4,90.8 1199.8,88.3 1200.9,85.8 1206.2,83.3 1207.8,80.9 1213.6,78.4 1214.6,75.9 1218.0,73.4 1218.8,71.0 1222.7,68.5 1223.0,66.0 1224.5,63.5 1238.2,61.1 1242.8,58.6 1254.2,56.1 1267.6,53.6 1274.2,51.2 1286.5,48.7 1297.0,46.2" stroke="#804010" stroke-width="2.2"/>
<polyline points="964.0,392.8 964.0,390.3 965.0,387.8 965.4,385.4 967.1,382.9 967.3,380.4 970.4,377.9 970.9,375.5 973.8,373.0 973.9,370.5 975.0,368.0 977.9,365.6 978.7,363.1 979.8,360.6 980.8,358.1 981.1,355.7 981.8,353.2 981.9,350.7 982.6,348.2 983.1,345.8 983.6,343.3 984.5,340.8 986.9,338.3 987.0,335.9 989.0,333.4 990.0,330.9 992.7,328.4 994.2,326.0 994.3,323.5 994.9,321.0 995.0,318.5 995.1,316.1 996.5,313.6 997.0,311.1 997.2,308.6 998.8,306.1 999.6,303.7 1001.1,301.2 1001.1,298.7 1001.8,296.2 1002.4,293.8 1003.9,291.3 1009.3,288.8 1009.4,286.3 1009.5,283.9 1009.9,281.4 1011.8,278.9 1014.3,276.4 1014.7,274.0 1015.5,271.5 1016.8,269.0 1016.8,266.5 1017.2,264.1 1018.1,261.6 1018.5,259.1 1021.6,256.6 1024.1,254.2 1028.0,251.7 1030.8,249.2 1031.6,246.7 1032.1,244.3 1036.2,241.8 1036.7,239.3 1038.8,236.8 1041.1,234.4 1041.4,231.9 1041.8,229.4 1043.8,226.9 1043.9,224.5 1043.9,222.0 1044.4,219.5 1046.1,217.0 1048.5,214.5 1050.4,212.1 1051.9,209.6 1053.6,207.1 1055.3,204.6 1055.3,202.2 1056.9,199.7 1057.0,197.2 1058.3,194.7 1060.2,192.3 1060.8,189.8 1066.8,187.3 1070.3,184.8 1073.1,182.4 1075.9,179.9 1076.5,177.4 1079.6,174.9 1084.1,172.5 1089.2,170.0 1094.3,167.5 1098.2,165.0 1100.4,162.6 1101.1,160.1 1103.4,157.6 1104.9,155.1 1105.3,152.7 1107.8,150.2 1110.6,147.7 1113.4,145.2 1115.4,142.8 1118.0,140.3 1118.4,137.8 1125.5,135.3 1125.6,132.9 1133.6,130.4 1133.6,127.9 1134.2,125.4 1142.2,122.9 1147.5,120.5 1149.0,118.0 1151.8,115.5 1160.3,113.0 1163.5,110.6 1164.5,108.1 1172.6,105.6 1172.7,103.1 1176.9,100.7 1184.0,98.2 1188.0,95.7 1192.0,93.2 1194.8,90.8 1197.9,88.3 1202.6,85.8 1207.1,83.3 1209.1,80.9 1212.4,78.4 1216.0,75.9 1216.2,73.4 1218.3,71.0 1224.6,68.5 1226.1,66.0 1228.5,63.5 1237.4,61.1 1247.2,58.6 1256.5,56.1 1268.7,53.6 1277.6,51.2 1291.4,48.7 1296.3,46.2" stroke="#820808" stroke-width="2.2"/>
<polyline points="964.0,392.8 964.8,390.3 966.2,387.8 966.5,385.4 975.5,382.9 975.8,380.4 976.0,377.9 981.7,375.5 984.1,373.0 985.7,370.5 985.8,368.0 986.2,365.6 991.5,363.1 991.9,360.6 992.2,358.1 992.2,355.7 994.5,353.2 995.6,350.7 998.7,348.2 999.4,345.8 1000.4,343.3 1002.9,340.8 1003.0,338.3 1003.5,335.9 1005.0,333.4 1006.6,330.9 1008.8,328.4 1011.9,326.0 1012.3,323.5 1013.8,321.0 1013.8,318.5 1014.6,316.1 1017.5,313.6 1019.3,311.1 1019.8,308.6 1020.7,306.1 1022.5,303.7 1022.6,301.2 1023.5,298.7 1028.1,296.2 1030.7,293.8 1032.0,291.3 1035.0,288.8 1035.4,286.3 1035.8,283.9 1036.9,281.4 1038.1,278.9 1043.0,276.4 1044.9,274.0 1045.6,271.5 1047.8,269.0 1049.4,266.5 1050.4,264.1 1051.0,261.6 1055.6,259.1 1056.2,256.6 1060.6,254.2 1061.4,251.7 1065.3,249.2 1065.8,246.7 1066.1,244.3 1068.0,241.8 1079.3,239.3 1082.7,236.8 1084.3,234.4 1094.1,231.9 1096.7,229.4 1098.6,226.9 1102.6,224.5 1107.7,222.0 1110.8,219.5 1116.1,217.0 1116.9,214.5 1119.7,212.1 1123.7,209.6 1128.2,207.1 1131.3,204.6 1133.8,202.2 1136.8,199.7 1138.3,197.2 1138.6,194.7 1145.0,192.3 1147.1,189.8 1148.0,187.3 1152.1,184.8 1155.0,182.4 1157.7,179.9 1157.8,177.4 1158.1,174.9 1159.0,172.5 1160.8,170.0 1166.2,167.5 1166.3,165.0 1168.0,162.6 1170.1,160.1 1173.6,157.6 1178.5,155.1 1179.0,152.7 1181.8,150.2 1183.6,147.7 1185.2,145.2 1186.8,142.8 1189.0,140.3 1196.1,137.8 1197.7,135.3 1201.3,132.9 1206.1,130.4 1207.6,127.9 1213.8,125.4 1215.3,122.9 1219.0,120.5 1224.7,118.0 1226.2,115.5 1229.2,113.0 1234.2,110.6 1238.5,108.1 1243.1,105.6 1246.3,103.1 1248.3,100.7 1248.9,98.2 1255.5,95.7 1256.2,93.2 1259.8,90.8 1270.2,88.3 1271.2,85.8 1273.1,83.3 1273.4,80.9 1278.7,78.4 1282.4,75.9 1283.2,73.4 1287.7,71.0 1288.9,68.5 1291.8,66.0 1294.0,63.5 1297.1,61.1 1297.6,58.6 1298.7,56.1 1299.7,53.6 1304.4,51.2 1305.8,48.7 1306.9,46.2" stroke="#2aee2a" stroke-width="2.2"/>
<polyline points="964.0,392.8 967.9,390.3 968.6,387.8 971.0,385.4 973.0,382.9 978.5,380.4 980.6,377.9 981.5,375.5 984.4,373.0 986.3,370.5 986.8,368.0 987.3,365.6 988.3,363.1 990.7,360.6 991.0,358.1 992.2,355.7 992.3,353.2 996.9,350.7 996.9,348.2 1000.7,345.8 1001.3,343.3 1005.2,340.8 1005.4,338.3 1006.1,335.9 1006.2,333.4 1013.5,330.9 1014.6,328.4 1015.9,326.0 1016.8,323.5 1020.1,321.0 1020.5,318.5 1021.9,316.1 1023.6,313.6 1023.7,311.1 1026.6,308.6 1027.2,306.1 1028.2,303.7 1028.6,301.2 1029.7,298.7 1029.9,296.2 1030.2,293.8 1034.1,291.3 1035.4,288.8 1037.9,286.3 1037.9,283.9 1038.8,281.4 1040.9,278.9 1043.5,276.4 1043.8,274.0 1045.4,271.5 1047.7,269.0 1047.9,266.5 1049.3,264.1 1049.7,261.6 1052.9,259.1 1053.0,256.6 1053.8,254.2 1054.5,251.7 1059.5,249.2 1060.8,246.7 1060.9,244.3 1063.7,241.8 1069.5,239.3 1070.8,236.8 1077.4,234.4 1081.0,231.9 1081.4,229.4 1082.6,226.9 1083.0,224.5 1084.2,222.0 1092.1,219.5 1092.2,217.0 1093.3,214.5 1096.5,212.1 1097.7,209.6 1098.5,207.1 1100.2,204.6 1101.8,202.2 1103.4,199.7 1105.0,197.2 1105.6,194.7 1105.8,192.3 1109.4,189.8 1111.4,187.3 1112.8,184.8 1113.0,182.4 1113.4,179.9 1113.7,177.4 1118.6,174.9 1120.2,172.5 1123.5,170.0 1127.3,167.5 1128.2,165.0 1129.4,162.6 1132.4,160.1 1135.8,157.6 1137.3,155.1 1143.0,152.7 1148.3,150.2 1152.9,147.7 1157.3,145.2 1159.9,142.8 1166.2,140.3 1170.2,137.8 1171.9,135.3 1178.3,132.9 1182.7,130.4 1183.5,127.9 1187.2,125.4 1188.3,122.9 1191.4,120.5 1195.9,118.0 1198.2,115.5 1199.3,113.0 1201.6,110.6 1206.5,108.1 1213.6,105.6 1215.4,103.1 1215.8,100.7 1218.4,98.2 1221.0,95.7 1224.2,93.2 1225.6,90.8 1229.9,88.3 1233.3,85.8 1237.2,83.3 1237.2,80.9 1239.7,78.4 1245.1,75.9 1246.7,73.4 1249.5,71.0 1260.7,68.5 1264.7,66.0 1269.3,63.5 1274.7,61.1 1282.3,58.6 1283.0,56.1 1283.6,53.6 1287.4,51.2 1290.1,48.7 1292.8,46.2" stroke="#ff8811" stroke-width="2.2"/>
<polyline points="964.0,392.8 966.1,390.3 969.8,387.8 971.2,385.4 972.3,382.9 979.8,380.4 980.2,377.9 981.1,375.5 984.9,373.0 987.0,370.5 989.0,368.0 989.0,365.6 989.6,363.1 990.5,360.6 991.0,358.1 992.7,355.7 994.7,353.2 998.1,350.7 998.4,348.2 1000.5,345.8 1003.6,343.3 1006.0,340.8 1008.0,338.3 1009.5,335.9 1010.0,333.4 1013.4,330.9 1014.3,328.4 1015.7,326.0 1017.0,323.5 1017.8,321.0 1018.1,318.5 1021.0,316.1 1022.0,313.6 1022.5,311.1 1023.3,308.6 1025.0,306.1 1025.8,303.7 1026.4,301.2 1026.7,298.7 1029.2,296.2 1031.2,293.8 1031.9,291.3 1033.4,288.8 1035.5,286.3 1036.1,283.9 1037.7,281.4 1038.5,278.9 1038.9,276.4 1039.0,274.0 1040.0,271.5 1040.1,269.0 1040.7,266.5 1042.1,264.1 1042.6,261.6 1042.8,259.1 1044.5,256.6 1047.6,254.2 1051.1,251.7 1052.3,249.2 1054.5,246.7 1054.5,244.3 1056.4,241.8 1056.6,239.3 1057.6,236.8 1058.5,234.4 1060.8,231.9 1062.6,229.4 1063.6,226.9 1070.4,224.5 1075.8,222.0 1081.3,219.5 1084.7,217.0 1085.9,214.5 1086.1,212.1 1086.2,209.6 1086.6,207.1 1087.0,204.6 1090.3,202.2 1092.6,199.7 1095.3,197.2 1099.4,194.7 1102.5,192.3 1103.3,189.8 1105.5,187.3 1105.6,184.8 1107.6,182.4 1111.2,179.9 1113.4,177.4 1114.8,174.9 1118.7,172.5 1124.9,170.0 1126.0,167.5 1129.7,165.0 1131.3,162.6 1133.8,160.1 1134.2,157.6 1141.3,155.1 1147.8,152.7 1157.1,150.2 1162.5,147.7 1166.5,145.2 1174.3,142.8 1175.5,140.3 1181.9,137.8 1182.0,135.3 1186.1,132.9 1190.2,130.4 1190.9,127.9 1191.8,125.4 1197.9,122.9 1198.0,120.5 1203.8,118.0 1209.7,115.5 1211.8,113.0 1214.1,110.6 1219.5,108.1 1221.4,105.6 1226.1,103.1 1230.3,100.7 1231.0,98.2 1231.4,95.7 1234.2,93.2 1237.3,90.8 1238.8,88.3 1239.7,85.8 1242.2,83.3 1244.1,80.9 1250.0,78.4 1250.8,75.9 1265.2,73.4 1267.2,71.0 1267.8,68.5 1271.5,66.0 1278.4,63.5 1280.9,61.1 1283.4,58.6 1287.2,56.1 1287.7,53.6 1288.8,51.2 1291.3,48.7 1291.4,46.2" stroke="#808000" stroke-width="2.2"/>
<polyline points="964.0,392.8 967.7,390.3 968.4,387.8 973.2,385.4 975.4,382.9 979.2,380.4 980.9,377.9 982.5,375.5 985.7,373.0 986.3,370.5 988.9,368.0 989.7,365.6 991.6,363.1 993.1,360.6 995.6,358.1 995.6,355.7 995.9,353.2 997.4,350.7 1003.4,348.2 1003.7,345.8 1007.1,343.3 1009.7,340.8 1013.5,338.3 1013.5,335.9 1013.5,333.4 1014.9,330.9 1015.6,328.4 1017.9,326.0 1019.4,323.5 1021.0,321.0 1022.9,318.5 1023.7,316.1 1026.8,313.6 1029.3,311.1 1031.4,308.6 1032.4,306.1 1032.6,303.7 1034.5,301.2 1035.0,298.7 1036.2,296.2 1038.8,293.8 1039.9,291.3 1040.3,288.8 1040.3,286.3 1041.5,283.9 1041.6,281.4 1042.6,278.9 1044.4,276.4 1045.7,274.0 1049.4,271.5 1049.5,269.0 1051.9,266.5 1054.7,264.1 1056.6,261.6 1058.2,259.1 1060.3,256.6 1060.3,254.2 1060.9,251.7 1062.6,249.2 1066.2,246.7 1067.2,244.3 1069.7,241.8 1074.3,239.3 1076.3,236.8 1081.4,234.4 1082.9,231.9 1083.2,229.4 1083.3,226.9 1083.3,224.5 1090.5,222.0 1092.6,219.5 1094.2,217.0 1095.5,214.5 1097.2,212.1 1097.7,209.6 1097.9,207.1 1098.8,204.6 1103.3,202.2 1106.6,199.7 1106.7,197.2 1108.2,194.7 1110.1,192.3 1111.7,189.8 1113.3,187.3 1113.8,184.8 1115.0,182.4 1115.8,179.9 1116.4,177.4 1118.2,174.9 1122.8,172.5 1124.8,170.0 1126.7,167.5 1133.7,165.0 1135.9,162.6 1137.4,160.1 1138.2,157.6 1141.9,155.1 1151.5,152.7 1152.0,150.2 1160.7,147.7 1164.9,145.2 1169.4,142.8 1173.8,140.3 1176.3,137.8 1178.0,135.3 1181.9,132.9 1185.0,130.4 1185.4,127.9 1194.3,125.4 1194.8,122.9 1196.1,120.5 1196.8,118.0 1199.2,115.5 1200.4,113.0 1200.9,110.6 1209.1,108.1 1213.0,105.6 1217.4,103.1 1219.2,100.7 1221.7,98.2 1226.5,95.7 1228.0,93.2 1231.2,90.8 1237.6,88.3 1238.3,85.8 1239.7,83.3 1241.0,80.9 1241.5,78.4 1247.9,75.9 1250.6,73.4 1255.5,71.0 1264.1,68.5 1264.9,66.0 1267.5,63.5 1282.4,61.1 1284.1,58.6 1284.7,56.1 1286.1,53.6 1289.2,51.2 1293.9,48.7 1294.6,46.2" stroke="#b4be00" stroke-width="2.2"/>
</g>
<rect x="964.0" y="46.2" width="347.2" height="346.6" fill="none" stroke="#000" stroke-width="2"/>
<line x1="959.0" y1="392.8" x2="964.0" y2="392.8" stroke="#000" stroke-width="2" />
<line x1="959.0" y1="358.1" x2="964.0" y2="358.1" stroke="#000" stroke-width="2" />
<line x1="959.0" y1="323.5" x2="964.0" y2="323.5" stroke="#000" stroke-width="2" />
<line x1="959.0" y1="288.8" x2="964.0" y2="288.8" stroke="#000" stroke-width="2" />
<line x1="959.0" y1="254.2" x2="964.0" y2="254.2" stroke="#000" stroke-width="2" />
<line x1="959.0" y1="219.5" x2="964.0" y2="219.5" stroke="#000" stroke-width="2" />
<line x1="959.0" y1="184.8" x2="964.0" y2="184.8" stroke="#000" stroke-width="2" />
<line x1="959.0" y1="150.2" x2="964.0" y2="150.2" stroke="#000" stroke-width="2" />
<line x1="959.0" y1="115.5" x2="964.0" y2="115.5" stroke="#000" stroke-width="2" />
<line x1="959.0" y1="80.9" x2="964.0" y2="80.9" stroke="#000" stroke-width="2" />
<line x1="959.0" y1="46.2" x2="964.0" y2="46.2" stroke="#000" stroke-width="2" />
<line x1="964.0" y1="392.8" x2="964.0" y2="397.8" stroke="#000" stroke-width="2" />
<line x1="1002.6" y1="392.8" x2="1002.6" y2="397.8" stroke="#000" stroke-width="2" />
<line x1="1041.2" y1="392.8" x2="1041.2" y2="397.8" stroke="#000" stroke-width="2" />
<line x1="1079.7" y1="392.8" x2="1079.7" y2="397.8" stroke="#000" stroke-width="2" />
<line x1="1118.3" y1="392.8" x2="1118.3" y2="397.8" stroke="#000" stroke-width="2" />
<line x1="1156.9" y1="392.8" x2="1156.9" y2="397.8" stroke="#000" stroke-width="2" />
<line x1="1195.5" y1="392.8" x2="1195.5" y2="397.8" stroke="#000" stroke-width="2" />
<line x1="1234.0" y1="392.8" x2="1234.0" y2="397.8" stroke="#000" stroke-width="2" />
<line x1="1272.6" y1="392.8" x2="1272.6" y2="397.8" stroke="#000" stroke-width="2" />
<line x1="1311.2" y1="392.8" x2="1311.2" y2="397.8" stroke="#000" stroke-width="2" />
<text x="957.5" y="401.4" font-size="21.1" font-weight="normal" font-style="normal" text-anchor="end" fill="#000" >0</text>
<text x="957.5" y="332.1" font-size="21.1" font-weight="normal" font-style="normal" text-anchor="end" fill="#000" >20</text>
<text x="957.5" y="262.8" font-size="21.1" font-weight="normal" font-style="normal" text-anchor="end" fill="#000" >40</text>
<text x="957.5" y="193.4" font-size="21.1" font-weight="normal" font-style="normal" text-anchor="end" fill="#000" >60</text>
<text x="957.5" y="124.1" font-size="21.1" font-weight="normal" font-style="normal" text-anchor="end" fill="#000" >80</text>
<text x="957.5" y="54.8" font-size="21.1" font-weight="normal" font-style="normal" text-anchor="end" fill="#000" >100</text>
<text x="964.0" y="414.2" font-size="21.1" font-weight="normal" font-style="normal" text-anchor="middle" fill="#000" >0</text>
<text x="1079.7" y="414.2" font-size="21.1" font-weight="normal" font-style="normal" text-anchor="middle" fill="#000" >30</text>
<text x="1195.5" y="414.2" font-size="21.1" font-weight="normal" font-style="normal" text-anchor="middle" fill="#000" >60</text>
<text x="1311.2" y="414.2" font-size="21.1" font-weight="normal" font-style="normal" text-anchor="middle" fill="#000" >90</text>
<text x="0" y="0" font-size="21.2" text-anchor="middle" transform="translate(927.2,219.5) rotate(-90)">cumulative percentage</text>
<text x="997.3" y="435.8" font-size="21.1" font-weight="normal" font-style="normal" text-anchor="start" fill="#000" >deviation</text>
<text transform="translate(1087.5,435.8) scale(1.25,1)" font-size="20.1">θ</text>
<text x="1100.9" y="438.8" font-size="17.2" font-weight="normal" font-style="normal" text-anchor="start" fill="#000" >theory</text>
<text x="1153.3" y="435.8" font-size="21.1" font-weight="normal" font-style="normal" text-anchor="start" fill="#000" >-</text>
<text transform="translate(1162.3,435.8) scale(1.25,1)" font-size="20.1">θ</text>
<text x="1177.0" y="438.8" font-size="21.0" font-weight="normal" font-style="normal" text-anchor="start" fill="#000" >division</text>
<text x="1250.6" y="435.8" font-size="21.1" font-weight="normal" font-style="normal" text-anchor="start" fill="#000" >(°)</text>
<text x="972.8" y="67.9" font-size="21.1" font-weight="bold" font-style="normal" text-anchor="start" fill="#000" >MT number</text>
<text x="973.4" y="92.4" font-size="21.1"><tspan font-style="italic">n</tspan>=140</text>
<text x="1125.4" y="275.4" font-size="20.8" font-weight="bold" font-style="normal" text-anchor="start" fill="#000" >GFP–Mud</text>
<text x="1306.0" y="275.4" font-size="20.8" font-weight="bold" font-style="normal" text-anchor="end" fill="#000" >shape</text>
<line x1="1157.1" y1="296.8" x2="1178.8" y2="296.8" stroke="#000000" stroke-width="4.4" />
<line x1="1262.6" y1="296.8" x2="1284.7" y2="296.8" stroke="#2aee2a" stroke-width="4" />
<text x="1190.6" y="302.5" font-size="21.1" font-weight="normal" font-style="normal" text-anchor="start" fill="#000" >N=5</text>
<line x1="1157.1" y1="323.2" x2="1178.8" y2="323.2" stroke="#5a0505" stroke-width="4" />
<line x1="1262.6" y1="323.2" x2="1284.7" y2="323.2" stroke="#ff8811" stroke-width="4" />
<text x="1190.6" y="328.9" font-size="21.1" font-weight="normal" font-style="normal" text-anchor="start" fill="#000" >N=15</text>
<line x1="1157.1" y1="349.6" x2="1178.8" y2="349.6" stroke="#804010" stroke-width="4" />
<line x1="1262.6" y1="349.6" x2="1284.7" y2="349.6" stroke="#808000" stroke-width="4" />
<text x="1190.6" y="355.3" font-size="21.1" font-weight="normal" font-style="normal" text-anchor="start" fill="#000" >N=30</text>
<line x1="1157.1" y1="376.0" x2="1178.8" y2="376.0" stroke="#820808" stroke-width="4" />
<line x1="1262.6" y1="376.0" x2="1284.7" y2="376.0" stroke="#b4be00" stroke-width="4" />
<text x="1190.6" y="381.7" font-size="21.1" font-weight="normal" font-style="normal" text-anchor="start" fill="#000" >N=100</text>
<text x="471.7" y="482.7" font-size="33" font-weight="bold" font-style="normal" text-anchor="start" fill="#000" >e</text>
<defs><clipPath id="clipe"><rect x="525.5" y="505.9" width="347.2" height="346.6"/></clipPath></defs>
<g clip-path="url(#clipe)" fill="none" stroke-linejoin="round">
<polyline points="525.5,852.5 525.5,850.0 525.5,847.5 528.1,845.1 528.7,842.6 529.3,840.1 530.4,837.6 533.8,835.2 534.7,832.7 535.1,830.2 536.0,827.7 537.4,825.3 537.8,822.8 538.1,820.3 539.7,817.8 540.0,815.4 540.5,812.9 540.6,810.4 544.5,807.9 545.7,805.5 545.7,803.0 546.9,800.5 547.6,798.0 547.9,795.6 548.7,793.1 548.9,790.6 549.1,788.1 549.1,785.7 551.8,783.2 551.8,780.7 552.1,778.2 555.2,775.8 558.7,773.3 559.1,770.8 561.5,768.3 563.4,765.9 563.8,763.4 564.6,760.9 566.4,758.4 568.5,755.9 568.6,753.5 569.9,751.0 570.2,748.5 571.4,746.0 571.9,743.6 577.3,741.1 580.6,738.6 583.6,736.1 585.3,733.7 585.3,731.2 585.6,728.7 586.8,726.2 591.9,723.8 597.8,721.3 600.0,718.8 602.7,716.3 609.8,713.9 612.2,711.4 612.5,708.9 613.7,706.4 615.2,704.0 617.6,701.5 618.9,699.0 619.1,696.5 619.9,694.1 622.1,691.6 624.7,689.1 626.4,686.6 631.6,684.2 635.4,681.7 637.6,679.2 638.2,676.7 639.6,674.2 642.9,671.8 646.1,669.3 646.7,666.8 648.0,664.3 649.0,661.9 650.7,659.4 651.1,656.9 652.2,654.4 656.2,652.0 658.4,649.5 660.0,647.0 660.3,644.5 661.7,642.1 664.2,639.6 667.1,637.1 667.4,634.6 672.4,632.2 674.8,629.7 680.1,627.2 681.6,624.7 682.6,622.3 682.8,619.8 683.0,617.3 685.4,614.8 690.8,612.4 694.4,609.9 695.3,607.4 696.8,604.9 703.7,602.5 705.1,600.0 708.8,597.5 709.1,595.0 720.6,592.5 723.1,590.1 724.0,587.6 725.5,585.1 731.2,582.6 734.8,580.2 736.4,577.7 738.0,575.2 739.8,572.7 744.2,570.3 747.4,567.8 750.1,565.3 750.4,562.8 754.6,560.4 759.4,557.9 777.8,555.4 784.3,552.9 790.1,550.5 798.4,548.0 799.0,545.5 805.9,543.0 806.2,540.6 807.7,538.1 808.8,535.6 809.7,533.1 810.4,530.7 813.5,528.2 822.1,525.7 822.4,523.2 829.5,520.8 837.1,518.3 842.6,515.8 844.9,513.3 850.0,510.9 861.9,508.4 872.7,505.9" stroke="#000000" stroke-width="2.2"/>
<polyline points="525.5,852.5 525.5,850.0 528.1,847.5 531.0,845.1 531.0,842.6 533.7,840.1 534.2,837.6 536.1,835.2 537.0,832.7 538.2,830.2 538.5,827.7 539.1,825.3 539.3,822.8 540.6,820.3 540.7,817.8 540.8,815.4 541.7,812.9 542.6,810.4 544.4,807.9 544.4,805.5 544.9,803.0 547.4,800.5 547.6,798.0 548.2,795.6 548.4,793.1 548.8,790.6 549.7,788.1 552.3,785.7 554.3,783.2 554.5,780.7 554.8,778.2 555.2,775.8 555.3,773.3 559.1,770.8 559.2,768.3 559.8,765.9 560.4,763.4 560.8,760.9 560.9,758.4 561.2,755.9 561.5,753.5 562.0,751.0 564.2,748.5 565.0,746.0 565.7,743.6 566.1,741.1 566.7,738.6 567.3,736.1 567.7,733.7 568.3,731.2 569.8,728.7 571.3,726.2 573.0,723.8 573.1,721.3 573.3,718.8 574.7,716.3 575.7,713.9 576.5,711.4 577.0,708.9 577.5,706.4 580.7,704.0 583.5,701.5 586.0,699.0 586.3,696.5 586.6,694.1 586.8,691.6 589.0,689.1 589.2,686.6 590.8,684.2 593.2,681.7 595.1,679.2 595.9,676.7 596.6,674.2 598.1,671.8 602.0,669.3 606.0,666.8 606.8,664.3 607.5,661.9 607.8,659.4 608.9,656.9 611.9,654.4 616.1,652.0 617.7,649.5 617.9,647.0 622.1,644.5 623.5,642.1 631.8,639.6 633.1,637.1 639.8,634.6 640.9,632.2 645.4,629.7 655.7,627.2 655.8,624.7 657.1,622.3 664.8,619.8 672.8,617.3 676.4,614.8 684.6,612.4 688.1,609.9 694.8,607.4 697.3,604.9 701.2,602.5 709.3,600.0 715.7,597.5 723.1,595.0 725.7,592.5 733.8,590.1 741.4,587.6 747.0,585.1 754.1,582.6 755.6,580.2 758.0,577.7 761.3,575.2 763.3,572.7 764.2,570.3 764.8,567.8 767.8,565.3 768.7,562.8 772.2,560.4 772.7,557.9 773.5,555.4 781.3,552.9 781.4,550.5 782.1,548.0 783.7,545.5 791.1,543.0 795.3,540.6 796.9,538.1 807.4,535.6 817.0,533.1 821.9,530.7 828.7,528.2 835.1,525.7 836.8,523.2 842.0,520.8 845.4,518.3 847.2,515.8 849.3,513.3 854.0,510.9 865.2,508.4 872.7,505.9" stroke="#5a0505" stroke-width="2.2"/>
<polyline points="525.5,852.5 525.6,850.0 527.1,847.5 528.4,845.1 529.3,842.6 530.0,840.1 530.4,837.6 531.1,835.2 531.6,832.7 533.9,830.2 535.2,827.7 535.3,825.3 535.4,822.8 535.5,820.3 535.9,817.8 536.3,815.4 536.3,812.9 537.5,810.4 539.1,807.9 539.7,805.5 541.2,803.0 541.6,800.5 544.0,798.0 544.0,795.6 545.7,793.1 546.3,790.6 546.6,788.1 547.0,785.7 547.7,783.2 549.2,780.7 549.5,778.2 552.3,775.8 552.6,773.3 553.1,770.8 555.0,768.3 557.1,765.9 559.0,763.4 559.4,760.9 560.1,758.4 560.4,755.9 560.7,753.5 563.0,751.0 564.9,748.5 564.9,746.0 566.0,743.6 567.4,741.1 569.4,738.6 569.6,736.1 572.3,733.7 573.7,731.2 574.7,728.7 575.6,726.2 577.9,723.8 578.5,721.3 580.6,718.8 583.6,716.3 585.4,713.9 586.8,711.4 588.1,708.9 588.5,706.4 591.3,704.0 591.9,701.5 593.3,699.0 595.6,696.5 595.9,694.1 599.0,691.6 602.4,689.1 605.9,686.6 606.1,684.2 608.3,681.7 609.0,679.2 610.5,676.7 613.4,674.2 616.4,671.8 621.1,669.3 621.4,666.8 624.8,664.3 625.8,661.9 628.7,659.4 634.6,656.9 635.4,654.4 635.5,652.0 642.0,649.5 644.6,647.0 647.3,644.5 651.4,642.1 651.4,639.6 651.9,637.1 651.9,634.6 659.9,632.2 662.0,629.7 669.4,627.2 676.9,624.7 678.8,622.3 683.9,619.8 686.1,617.3 686.5,614.8 695.0,612.4 696.8,609.9 698.0,607.4 704.4,604.9 708.4,602.5 710.5,600.0 717.4,597.5 719.0,595.0 723.6,592.5 729.5,590.1 733.1,587.6 738.3,585.1 743.9,582.6 743.9,580.2 749.1,577.7 753.3,575.2 760.3,572.7 760.8,570.3 761.6,567.8 762.2,565.3 763.2,562.8 763.8,560.4 765.5,557.9 766.7,555.4 772.7,552.9 774.9,550.5 775.7,548.0 776.8,545.5 776.9,543.0 781.1,540.6 781.6,538.1 787.2,535.6 791.3,533.1 795.0,530.7 808.0,528.2 819.8,525.7 824.6,523.2 824.8,520.8 835.0,518.3 836.2,515.8 843.7,513.3 848.2,510.9 861.2,508.4 872.7,505.9" stroke="#804010" stroke-width="2.2"/>
<polyline points="525.5,852.5 525.5,850.0 526.4,847.5 526.9,845.1 527.2,842.6 527.6,840.1 528.3,837.6 530.7,835.2 534.6,832.7 534.9,830.2 535.1,827.7 535.3,825.3 536.1,822.8 536.6,820.3 537.4,817.8 538.3,815.4 538.7,812.9 539.3,810.4 539.5,807.9 540.1,805.5 540.2,803.0 541.5,800.5 542.5,798.0 543.9,795.6 545.0,793.1 545.7,790.6 546.5,788.1 546.8,785.7 547.5,783.2 547.6,780.7 549.0,778.2 551.0,775.8 551.1,773.3 551.4,770.8 551.9,768.3 552.6,765.9 555.1,763.4 555.1,760.9 555.2,758.4 555.9,755.9 556.7,753.5 556.9,751.0 557.6,748.5 558.4,746.0 560.4,743.6 561.8,741.1 564.8,738.6 565.1,736.1 565.8,733.7 566.0,731.2 567.8,728.7 567.9,726.2 568.9,723.8 569.2,721.3 569.4,718.8 569.7,716.3 570.3,713.9 573.9,711.4 578.2,708.9 579.4,706.4 579.7,704.0 580.6,701.5 581.1,699.0 584.2,696.5 587.7,694.1 589.6,691.6 590.1,689.1 593.9,686.6 595.8,684.2 595.8,681.7 596.0,679.2 601.1,676.7 601.7,674.2 602.4,671.8 607.0,669.3 608.6,666.8 609.4,664.3 610.7,661.9 611.8,659.4 615.6,656.9 617.9,654.4 623.2,652.0 623.9,649.5 627.9,647.0 629.4,644.5 638.8,642.1 639.8,639.6 639.8,637.1 648.2,634.6 648.6,632.2 649.6,629.7 654.7,627.2 655.7,624.7 664.9,622.3 672.4,619.8 677.1,617.3 679.0,614.8 688.2,612.4 689.3,609.9 697.8,607.4 697.8,604.9 703.4,602.5 706.9,600.0 712.9,597.5 717.4,595.0 718.7,592.5 721.7,590.1 732.0,587.6 740.4,585.1 749.1,582.6 749.7,580.2 752.7,577.7 754.9,575.2 756.2,572.7 760.5,570.3 762.6,567.8 763.9,565.3 765.3,562.8 767.2,560.4 772.0,557.9 773.1,555.4 774.5,552.9 777.3,550.5 779.5,548.0 779.9,545.5 782.6,543.0 782.9,540.6 789.0,538.1 793.4,535.6 802.3,533.1 803.7,530.7 814.8,528.2 817.0,525.7 831.9,523.2 833.2,520.8 835.9,518.3 840.9,515.8 847.8,513.3 853.9,510.9 864.1,508.4 872.7,505.9" stroke="#820808" stroke-width="2.2"/>
<polyline points="525.5,852.5 525.5,850.0 528.6,847.5 529.4,845.1 529.9,842.6 531.6,840.1 532.2,837.6 533.3,835.2 533.3,832.7 533.8,830.2 534.3,827.7 538.4,825.3 539.9,822.8 540.1,820.3 546.4,817.8 547.5,815.4 549.4,812.9 551.2,810.4 555.5,807.9 557.3,805.5 561.6,803.0 562.2,800.5 563.3,798.0 567.2,795.6 570.3,793.1 573.8,790.6 576.8,788.1 577.1,785.7 577.6,783.2 580.8,780.7 583.8,778.2 584.1,775.8 588.3,773.3 588.5,770.8 589.1,768.3 590.5,765.9 591.4,763.4 591.7,760.9 592.7,758.4 595.1,755.9 595.3,753.5 597.7,751.0 599.1,748.5 600.3,746.0 604.4,743.6 605.3,741.1 605.4,738.6 606.6,736.1 607.7,733.7 612.0,731.2 613.4,728.7 615.1,726.2 617.9,723.8 618.0,721.3 618.1,718.8 619.5,716.3 619.5,713.9 621.1,711.4 624.3,708.9 624.8,706.4 630.7,704.0 631.7,701.5 632.7,699.0 635.1,696.5 635.1,694.1 636.5,691.6 637.4,689.1 641.6,686.6 643.4,684.2 643.7,681.7 648.3,679.2 649.0,676.7 650.2,674.2 653.0,671.8 655.1,669.3 655.2,666.8 655.7,664.3 657.0,661.9 657.8,659.4 660.6,656.9 661.6,654.4 664.8,652.0 668.7,649.5 671.5,647.0 673.3,644.5 673.6,642.1 681.9,639.6 682.2,637.1 683.6,634.6 684.8,632.2 686.0,629.7 689.8,627.2 693.3,624.7 693.9,622.3 698.9,619.8 701.0,617.3 705.5,614.8 707.2,612.4 710.6,609.9 712.8,607.4 715.3,604.9 717.7,602.5 718.0,600.0 718.5,597.5 721.1,595.0 721.7,592.5 726.8,590.1 730.6,587.6 731.5,585.1 734.2,582.6 739.9,580.2 744.8,577.7 750.4,575.2 751.6,572.7 759.8,570.3 764.8,567.8 766.0,565.3 768.9,562.8 769.9,560.4 771.7,557.9 772.1,555.4 777.1,552.9 779.3,550.5 779.6,548.0 785.2,545.5 794.7,543.0 795.8,540.6 802.6,538.1 804.2,535.6 809.0,533.1 812.7,530.7 822.6,528.2 825.4,525.7 827.3,523.2 831.5,520.8 839.5,518.3 843.8,515.8 853.2,513.3 857.3,510.9 866.1,508.4 870.4,505.9" stroke="#2aee2a" stroke-width="2.2"/>
<polyline points="525.5,852.5 526.5,850.0 530.2,847.5 530.2,845.1 530.7,842.6 531.4,840.1 531.6,837.6 531.9,835.2 532.3,832.7 539.3,830.2 539.5,827.7 540.3,825.3 542.1,822.8 543.3,820.3 543.8,817.8 544.8,815.4 546.3,812.9 547.0,810.4 550.7,807.9 551.6,805.5 554.1,803.0 555.6,800.5 560.6,798.0 560.9,795.6 562.1,793.1 565.5,790.6 568.6,788.1 570.3,785.7 570.8,783.2 573.4,780.7 575.4,778.2 578.0,775.8 580.0,773.3 586.7,770.8 587.4,768.3 588.3,765.9 588.9,763.4 592.3,760.9 592.8,758.4 594.3,755.9 595.0,753.5 596.1,751.0 599.5,748.5 599.8,746.0 600.0,743.6 601.3,741.1 601.7,738.6 601.9,736.1 607.4,733.7 609.5,731.2 614.5,728.7 615.3,726.2 619.0,723.8 619.1,721.3 619.9,718.8 621.7,716.3 622.8,713.9 623.8,711.4 627.7,708.9 629.0,706.4 631.7,704.0 633.7,701.5 637.4,699.0 637.9,696.5 640.6,694.1 641.4,691.6 644.4,689.1 646.4,686.6 648.3,684.2 648.6,681.7 650.2,679.2 655.2,676.7 657.3,674.2 657.3,671.8 658.6,669.3 661.0,666.8 667.0,664.3 668.7,661.9 670.2,659.4 671.3,656.9 671.6,654.4 675.8,652.0 681.4,649.5 683.7,647.0 684.1,644.5 689.7,642.1 690.5,639.6 694.5,637.1 697.6,634.6 701.4,632.2 703.1,629.7 706.6,627.2 714.4,624.7 714.7,622.3 718.2,619.8 723.6,617.3 730.6,614.8 730.8,612.4 736.9,609.9 738.7,607.4 739.0,604.9 744.1,602.5 750.8,600.0 753.6,597.5 754.6,595.0 756.3,592.5 760.2,590.1 763.3,587.6 765.6,585.1 766.2,582.6 771.0,580.2 772.2,577.7 775.2,575.2 781.0,572.7 781.9,570.3 784.0,567.8 791.0,565.3 792.4,562.8 794.4,560.4 797.8,557.9 798.9,555.4 805.1,552.9 805.8,550.5 811.2,548.0 814.0,545.5 816.9,543.0 816.9,540.6 819.9,538.1 826.0,535.6 833.2,533.1 835.7,530.7 842.0,528.2 847.7,525.7 850.1,523.2 851.2,520.8 852.9,518.3 856.5,515.8 861.1,513.3 866.9,510.9 869.3,508.4 871.4,505.9" stroke="#ff8811" stroke-width="2.2"/>
<polyline points="525.5,852.5 525.5,850.0 526.2,847.5 531.3,845.1 532.5,842.6 532.5,840.1 533.5,837.6 534.0,835.2 536.6,832.7 536.7,830.2 536.7,827.7 537.7,825.3 537.8,822.8 540.5,820.3 540.9,817.8 541.7,815.4 546.5,812.9 547.0,810.4 547.5,807.9 549.3,805.5 551.8,803.0 552.4,800.5 553.2,798.0 554.6,795.6 559.0,793.1 562.3,790.6 563.0,788.1 565.3,785.7 568.5,783.2 569.3,780.7 572.8,778.2 574.4,775.8 580.4,773.3 582.0,770.8 584.3,768.3 588.8,765.9 589.0,763.4 590.0,760.9 591.4,758.4 591.5,755.9 592.9,753.5 593.2,751.0 593.6,748.5 595.0,746.0 595.9,743.6 597.9,741.1 599.5,738.6 603.4,736.1 603.4,733.7 603.5,731.2 605.0,728.7 609.2,726.2 611.5,723.8 612.4,721.3 613.0,718.8 614.6,716.3 620.0,713.9 621.1,711.4 623.9,708.9 624.3,706.4 625.7,704.0 626.9,701.5 628.5,699.0 630.7,696.5 633.8,694.1 636.5,691.6 640.3,689.1 642.4,686.6 646.1,684.2 646.8,681.7 647.6,679.2 649.6,676.7 652.4,674.2 656.2,671.8 657.8,669.3 658.9,666.8 661.2,664.3 661.5,661.9 665.2,659.4 668.2,656.9 669.2,654.4 673.6,652.0 677.3,649.5 680.4,647.0 682.8,644.5 687.3,642.1 687.8,639.6 688.6,637.1 694.6,634.6 699.4,632.2 702.5,629.7 702.8,627.2 704.3,624.7 711.9,622.3 715.7,619.8 728.6,617.3 728.6,614.8 734.0,612.4 735.7,609.9 736.5,607.4 739.3,604.9 746.1,602.5 750.9,600.0 752.9,597.5 753.7,595.0 755.4,592.5 756.2,590.1 758.8,587.6 761.3,585.1 769.1,582.6 770.3,580.2 777.6,577.7 782.4,575.2 788.3,572.7 788.5,570.3 791.9,567.8 793.2,565.3 795.1,562.8 796.9,560.4 797.4,557.9 798.2,555.4 801.7,552.9 809.4,550.5 811.1,548.0 812.0,545.5 816.7,543.0 818.3,540.6 823.7,538.1 828.2,535.6 829.7,533.1 831.2,530.7 839.4,528.2 851.1,525.7 852.3,523.2 854.7,520.8 855.0,518.3 856.6,515.8 862.4,513.3 864.8,510.9 868.4,508.4 872.7,505.9" stroke="#808000" stroke-width="2.2"/>
<polyline points="525.5,852.5 525.7,850.0 528.5,847.5 530.3,845.1 531.1,842.6 531.7,840.1 532.9,837.6 534.5,835.2 535.1,832.7 537.6,830.2 539.0,827.7 540.2,825.3 542.0,822.8 542.1,820.3 543.2,817.8 544.2,815.4 545.0,812.9 546.2,810.4 549.1,807.9 553.7,805.5 553.7,803.0 555.5,800.5 562.3,798.0 563.1,795.6 563.7,793.1 564.0,790.6 565.5,788.1 571.4,785.7 574.5,783.2 578.5,780.7 578.7,778.2 583.3,775.8 583.9,773.3 583.9,770.8 586.3,768.3 587.7,765.9 588.4,763.4 592.9,760.9 593.6,758.4 595.2,755.9 599.0,753.5 600.8,751.0 601.3,748.5 603.6,746.0 604.4,743.6 604.5,741.1 607.3,738.6 607.8,736.1 614.1,733.7 614.6,731.2 616.8,728.7 617.7,726.2 617.8,723.8 618.2,721.3 621.1,718.8 626.4,716.3 627.4,713.9 629.0,711.4 630.1,708.9 634.4,706.4 634.7,704.0 640.8,701.5 641.4,699.0 643.1,696.5 646.7,694.1 648.1,691.6 650.9,689.1 654.2,686.6 655.5,684.2 656.3,681.7 657.7,679.2 658.7,676.7 658.7,674.2 662.3,671.8 664.4,669.3 666.9,666.8 671.4,664.3 671.9,661.9 672.7,659.4 677.7,656.9 679.0,654.4 682.0,652.0 685.8,649.5 686.6,647.0 688.3,644.5 691.4,642.1 692.9,639.6 693.4,637.1 696.8,634.6 697.8,632.2 699.9,629.7 704.3,627.2 705.8,624.7 708.4,622.3 711.6,619.8 717.9,617.3 725.4,614.8 726.3,612.4 727.7,609.9 734.4,607.4 734.9,604.9 736.3,602.5 742.0,600.0 742.1,597.5 744.3,595.0 746.7,592.5 748.0,590.1 753.3,587.6 755.7,585.1 759.4,582.6 760.0,580.2 761.3,577.7 764.8,575.2 773.1,572.7 775.9,570.3 777.9,567.8 784.2,565.3 786.1,562.8 789.6,560.4 790.8,557.9 791.6,555.4 794.2,552.9 801.2,550.5 801.4,548.0 802.0,545.5 804.8,543.0 810.5,540.6 813.3,538.1 821.9,535.6 823.7,533.1 825.0,530.7 830.7,528.2 837.1,525.7 839.5,523.2 847.3,520.8 855.0,518.3 856.9,515.8 861.4,513.3 863.3,510.9 866.1,508.4 870.6,505.9" stroke="#b4be00" stroke-width="2.2"/>
</g>
<rect x="525.5" y="505.9" width="347.2" height="346.6" fill="none" stroke="#000" stroke-width="2"/>
<line x1="520.5" y1="852.5" x2="525.5" y2="852.5" stroke="#000" stroke-width="2" />
<line x1="520.5" y1="817.8" x2="525.5" y2="817.8" stroke="#000" stroke-width="2" />
<line x1="520.5" y1="783.2" x2="525.5" y2="783.2" stroke="#000" stroke-width="2" />
<line x1="520.5" y1="748.5" x2="525.5" y2="748.5" stroke="#000" stroke-width="2" />
<line x1="520.5" y1="713.9" x2="525.5" y2="713.9" stroke="#000" stroke-width="2" />
<line x1="520.5" y1="679.2" x2="525.5" y2="679.2" stroke="#000" stroke-width="2" />
<line x1="520.5" y1="644.5" x2="525.5" y2="644.5" stroke="#000" stroke-width="2" />
<line x1="520.5" y1="609.9" x2="525.5" y2="609.9" stroke="#000" stroke-width="2" />
<line x1="520.5" y1="575.2" x2="525.5" y2="575.2" stroke="#000" stroke-width="2" />
<line x1="520.5" y1="540.6" x2="525.5" y2="540.6" stroke="#000" stroke-width="2" />
<line x1="520.5" y1="505.9" x2="525.5" y2="505.9" stroke="#000" stroke-width="2" />
<line x1="525.5" y1="852.5" x2="525.5" y2="857.5" stroke="#000" stroke-width="2" />
<line x1="564.1" y1="852.5" x2="564.1" y2="857.5" stroke="#000" stroke-width="2" />
<line x1="602.7" y1="852.5" x2="602.7" y2="857.5" stroke="#000" stroke-width="2" />
<line x1="641.2" y1="852.5" x2="641.2" y2="857.5" stroke="#000" stroke-width="2" />
<line x1="679.8" y1="852.5" x2="679.8" y2="857.5" stroke="#000" stroke-width="2" />
<line x1="718.4" y1="852.5" x2="718.4" y2="857.5" stroke="#000" stroke-width="2" />
<line x1="757.0" y1="852.5" x2="757.0" y2="857.5" stroke="#000" stroke-width="2" />
<line x1="795.5" y1="852.5" x2="795.5" y2="857.5" stroke="#000" stroke-width="2" />
<line x1="834.1" y1="852.5" x2="834.1" y2="857.5" stroke="#000" stroke-width="2" />
<line x1="872.7" y1="852.5" x2="872.7" y2="857.5" stroke="#000" stroke-width="2" />
<text x="519.0" y="861.1" font-size="21.1" font-weight="normal" font-style="normal" text-anchor="end" fill="#000" >0</text>
<text x="519.0" y="791.8" font-size="21.1" font-weight="normal" font-style="normal" text-anchor="end" fill="#000" >20</text>
<text x="519.0" y="722.5" font-size="21.1" font-weight="normal" font-style="normal" text-anchor="end" fill="#000" >40</text>
<text x="519.0" y="653.1" font-size="21.1" font-weight="normal" font-style="normal" text-anchor="end" fill="#000" >60</text>
<text x="519.0" y="583.8" font-size="21.1" font-weight="normal" font-style="normal" text-anchor="end" fill="#000" >80</text>
<text x="519.0" y="514.5" font-size="21.1" font-weight="normal" font-style="normal" text-anchor="end" fill="#000" >100</text>
<text x="525.5" y="873.9" font-size="21.1" font-weight="normal" font-style="normal" text-anchor="middle" fill="#000" >0</text>
<text x="641.2" y="873.9" font-size="21.1" font-weight="normal" font-style="normal" text-anchor="middle" fill="#000" >30</text>
<text x="757.0" y="873.9" font-size="21.1" font-weight="normal" font-style="normal" text-anchor="middle" fill="#000" >60</text>
<text x="872.7" y="873.9" font-size="21.1" font-weight="normal" font-style="normal" text-anchor="middle" fill="#000" >90</text>
<text x="0" y="0" font-size="21.2" text-anchor="middle" transform="translate(488.7,679.2) rotate(-90)">cumulative percentage</text>
<text x="558.8" y="895.5" font-size="21.1" font-weight="normal" font-style="normal" text-anchor="start" fill="#000" >deviation</text>
<text transform="translate(649.0,895.5) scale(1.25,1)" font-size="20.1">θ</text>
<text x="662.4" y="898.5" font-size="17.2" font-weight="normal" font-style="normal" text-anchor="start" fill="#000" >theory</text>
<text x="714.8" y="895.5" font-size="21.1" font-weight="normal" font-style="normal" text-anchor="start" fill="#000" >-</text>
<text transform="translate(723.8,895.5) scale(1.25,1)" font-size="20.1">θ</text>
<text x="738.5" y="898.5" font-size="21.0" font-weight="normal" font-style="normal" text-anchor="start" fill="#000" >division</text>
<text x="812.1" y="895.5" font-size="21.1" font-weight="normal" font-style="normal" text-anchor="start" fill="#000" >(°)</text>
<text x="534.3" y="527.6" font-size="21.1" font-weight="bold" font-style="normal" text-anchor="start" fill="#000" >angular extension of aster</text>
<text x="534.9" y="552.1" font-size="21.1"><tspan font-style="italic">n</tspan>=140</text>
<text x="682.5" y="735.1" font-size="20.8" font-weight="bold" font-style="normal" text-anchor="start" fill="#000" >GFP–Mud</text>
<text x="867.5" y="735.1" font-size="20.8" font-weight="bold" font-style="normal" text-anchor="end" fill="#000" >shape</text>
<line x1="714.2" y1="756.5" x2="735.7" y2="756.5" stroke="#000000" stroke-width="4.4" />
<line x1="824.1" y1="756.5" x2="846.2" y2="756.5" stroke="#2aee2a" stroke-width="4" />
<text x="742.7" y="762.2" font-size="21.1" font-weight="normal" font-style="normal" text-anchor="start" fill="#000" ><tspan font-family="Liberation Serif, serif" font-size="22">Φ</tspan>=120°</text>
<line x1="714.2" y1="782.9" x2="735.7" y2="782.9" stroke="#5a0505" stroke-width="4" />
<line x1="824.1" y1="782.9" x2="846.2" y2="782.9" stroke="#ff8811" stroke-width="4" />
<text x="742.7" y="788.6" font-size="21.1" font-weight="normal" font-style="normal" text-anchor="start" fill="#000" ><tspan font-family="Liberation Serif, serif" font-size="22">Φ</tspan>=180°</text>
<line x1="714.2" y1="809.3" x2="735.7" y2="809.3" stroke="#804010" stroke-width="4" />
<line x1="824.1" y1="809.3" x2="846.2" y2="809.3" stroke="#808000" stroke-width="4" />
<text x="742.7" y="815.0" font-size="21.1" font-weight="normal" font-style="normal" text-anchor="start" fill="#000" ><tspan font-family="Liberation Serif, serif" font-size="22">Φ</tspan>=270°</text>
<line x1="714.2" y1="835.7" x2="735.7" y2="835.7" stroke="#820808" stroke-width="4" />
<line x1="824.1" y1="835.7" x2="846.2" y2="835.7" stroke="#b4be00" stroke-width="4" />
<text x="742.7" y="841.4" font-size="21.1" font-weight="normal" font-style="normal" text-anchor="start" fill="#000" ><tspan font-family="Liberation Serif, serif" font-size="22">Φ</tspan>=360°</text>
<text x="911.1" y="482.7" font-size="33" font-weight="bold" font-style="normal" text-anchor="start" fill="#000" >f</text>
<defs><clipPath id="clipf"><rect x="964.0" y="505.9" width="347.2" height="346.6"/></clipPath></defs>
<g clip-path="url(#clipf)" fill="none" stroke-linejoin="round">
<polyline points="964.0,852.5 966.1,850.0 966.1,847.5 966.5,845.1 967.8,842.6 968.6,840.1 975.9,837.6 981.6,835.2 981.7,832.7 990.7,830.2 1012.1,827.7 1024.5,825.3 1025.5,822.8 1027.0,820.3 1027.4,817.8 1028.9,815.4 1031.3,812.9 1031.5,810.4 1031.7,807.9 1031.8,805.5 1032.1,803.0 1034.6,800.5 1038.0,798.0 1039.4,795.6 1042.0,793.1 1043.4,790.6 1047.8,788.1 1051.2,785.7 1051.6,783.2 1052.7,780.7 1053.4,778.2 1054.4,775.8 1058.1,773.3 1060.2,770.8 1064.0,768.3 1066.2,765.9 1072.8,763.4 1078.3,760.9 1078.4,758.4 1082.0,755.9 1082.4,753.5 1085.3,751.0 1088.1,748.5 1089.7,746.0 1093.2,743.6 1096.7,741.1 1098.7,738.6 1101.7,736.1 1102.5,733.7 1106.0,731.2 1106.4,728.7 1107.6,726.2 1110.8,723.8 1111.3,721.3 1115.4,718.8 1117.2,716.3 1119.2,713.9 1121.8,711.4 1122.8,708.9 1123.0,706.4 1124.4,704.0 1128.7,701.5 1131.3,699.0 1133.6,696.5 1143.3,694.1 1147.8,691.6 1149.4,689.1 1149.8,686.6 1150.5,684.2 1153.1,681.7 1156.4,679.2 1157.9,676.7 1160.0,674.2 1160.1,671.8 1163.2,669.3 1164.2,666.8 1165.8,664.3 1167.0,661.9 1168.5,659.4 1174.4,656.9 1178.1,654.4 1179.5,652.0 1182.9,649.5 1192.1,647.0 1192.8,644.5 1196.6,642.1 1201.2,639.6 1203.7,637.1 1204.0,634.6 1204.8,632.2 1212.6,629.7 1215.3,627.2 1215.8,624.7 1223.1,622.3 1223.4,619.8 1223.6,617.3 1228.8,614.8 1228.9,612.4 1230.8,609.9 1234.0,607.4 1234.9,604.9 1235.2,602.5 1236.6,600.0 1236.7,597.5 1237.2,595.0 1238.6,592.5 1242.9,590.1 1242.9,587.6 1243.2,585.1 1245.1,582.6 1246.8,580.2 1247.1,577.7 1249.8,575.2 1251.2,572.7 1251.3,570.3 1256.4,567.8 1256.9,565.3 1257.6,562.8 1260.1,560.4 1260.5,557.9 1265.2,555.4 1265.8,552.9 1267.4,550.5 1268.9,548.0 1271.4,545.5 1273.0,543.0 1275.1,540.6 1275.3,538.1 1278.4,535.6 1278.6,533.1 1279.8,530.7 1285.2,528.2 1286.2,525.7 1290.8,523.2 1292.8,520.8 1298.7,518.3 1299.9,515.8 1302.7,513.3 1304.2,510.9 1306.7,508.4 1311.2,505.9" stroke="#000000" stroke-width="2.2"/>
<polyline points="964.0,852.5 964.0,850.0 964.0,847.5 966.9,845.1 968.3,842.6 969.5,840.1 970.5,837.6 971.6,835.2 972.2,832.7 972.9,830.2 973.1,827.7 974.2,825.3 975.2,822.8 975.2,820.3 976.7,817.8 979.9,815.4 981.1,812.9 981.5,810.4 984.5,807.9 985.2,805.5 986.0,803.0 986.2,800.5 986.8,798.0 987.4,795.6 988.6,793.1 989.4,790.6 989.5,788.1 990.1,785.7 991.0,783.2 991.2,780.7 991.9,778.2 992.3,775.8 993.5,773.3 993.8,770.8 994.4,768.3 996.6,765.9 998.3,763.4 999.9,760.9 1001.3,758.4 1002.9,755.9 1003.4,753.5 1004.8,751.0 1005.3,748.5 1006.9,746.0 1007.1,743.6 1007.9,741.1 1008.9,738.6 1009.3,736.1 1014.4,733.7 1014.9,731.2 1015.3,728.7 1015.8,726.2 1016.3,723.8 1018.4,721.3 1018.6,718.8 1019.3,716.3 1020.1,713.9 1022.4,711.4 1023.8,708.9 1023.9,706.4 1024.2,704.0 1025.1,701.5 1025.3,699.0 1027.5,696.5 1029.5,694.1 1030.4,691.6 1031.3,689.1 1037.5,686.6 1038.5,684.2 1039.2,681.7 1041.8,679.2 1042.3,676.7 1044.4,674.2 1045.6,671.8 1048.0,669.3 1049.5,666.8 1050.0,664.3 1050.6,661.9 1052.2,659.4 1055.4,656.9 1057.1,654.4 1058.2,652.0 1059.6,649.5 1068.7,647.0 1069.7,644.5 1070.6,642.1 1075.1,639.6 1077.3,637.1 1080.3,634.6 1085.1,632.2 1091.9,629.7 1095.5,627.2 1099.9,624.7 1100.6,622.3 1102.7,619.8 1103.0,617.3 1104.2,614.8 1110.7,612.4 1112.3,609.9 1120.0,607.4 1122.6,604.9 1123.5,602.5 1125.7,600.0 1125.9,597.5 1127.4,595.0 1131.2,592.5 1132.9,590.1 1136.7,587.6 1145.7,585.1 1151.7,582.6 1151.9,580.2 1164.4,577.7 1164.7,575.2 1166.7,572.7 1168.9,570.3 1177.6,567.8 1181.4,565.3 1184.6,562.8 1189.3,560.4 1190.1,557.9 1194.1,555.4 1196.7,552.9 1198.0,550.5 1204.9,548.0 1205.1,545.5 1205.6,543.0 1206.2,540.6 1210.6,538.1 1214.8,535.6 1215.2,533.1 1217.7,530.7 1218.7,528.2 1226.1,525.7 1231.9,523.2 1246.9,520.8 1248.3,518.3 1260.3,515.8 1274.5,513.3 1280.4,510.9 1286.3,508.4 1300.8,505.9" stroke="#5a0505" stroke-width="2.2"/>
<polyline points="964.0,852.5 964.0,850.0 967.1,847.5 968.2,845.1 968.6,842.6 968.7,840.1 971.7,837.6 972.8,835.2 975.4,832.7 976.0,830.2 977.2,827.7 978.4,825.3 979.1,822.8 982.7,820.3 982.8,817.8 984.3,815.4 984.3,812.9 984.7,810.4 985.0,807.9 986.0,805.5 988.5,803.0 990.3,800.5 991.7,798.0 992.7,795.6 993.9,793.1 995.3,790.6 996.6,788.1 997.0,785.7 997.4,783.2 998.4,780.7 1000.9,778.2 1001.2,775.8 1001.9,773.3 1002.1,770.8 1002.5,768.3 1003.7,765.9 1003.8,763.4 1006.7,760.9 1007.1,758.4 1007.5,755.9 1008.4,753.5 1009.6,751.0 1011.4,748.5 1012.1,746.0 1013.7,743.6 1014.6,741.1 1014.9,738.6 1017.0,736.1 1017.0,733.7 1019.1,731.2 1020.2,728.7 1021.0,726.2 1022.3,723.8 1024.0,721.3 1024.5,718.8 1025.8,716.3 1027.3,713.9 1028.2,711.4 1028.9,708.9 1031.8,706.4 1032.0,704.0 1037.6,701.5 1040.7,699.0 1042.1,696.5 1042.6,694.1 1043.1,691.6 1044.0,689.1 1047.8,686.6 1048.7,684.2 1052.4,681.7 1055.2,679.2 1057.6,676.7 1058.5,674.2 1059.9,671.8 1065.7,669.3 1067.3,666.8 1069.2,664.3 1070.8,661.9 1075.2,659.4 1083.3,656.9 1084.1,654.4 1091.7,652.0 1092.6,649.5 1092.8,647.0 1097.9,644.5 1098.2,642.1 1101.1,639.6 1101.4,637.1 1107.5,634.6 1109.9,632.2 1110.7,629.7 1110.9,627.2 1118.1,624.7 1125.8,622.3 1127.1,619.8 1128.3,617.3 1141.0,614.8 1143.9,612.4 1150.0,609.9 1153.5,607.4 1161.1,604.9 1163.2,602.5 1165.0,600.0 1169.5,597.5 1174.8,595.0 1176.7,592.5 1180.7,590.1 1181.8,587.6 1188.2,585.1 1188.7,582.6 1190.2,580.2 1192.6,577.7 1197.6,575.2 1201.6,572.7 1204.1,570.3 1205.9,567.8 1207.6,565.3 1210.4,562.8 1213.5,560.4 1214.7,557.9 1221.6,555.4 1224.5,552.9 1229.8,550.5 1230.4,548.0 1234.5,545.5 1238.2,543.0 1240.6,540.6 1243.8,538.1 1250.9,535.6 1254.9,533.1 1265.6,530.7 1267.2,528.2 1275.0,525.7 1278.7,523.2 1279.5,520.8 1282.3,518.3 1284.1,515.8 1289.8,513.3 1291.3,510.9 1292.3,508.4 1298.0,505.9" stroke="#804010" stroke-width="2.2"/>
<polyline points="964.0,852.5 964.0,850.0 965.6,847.5 970.5,845.1 973.9,842.6 974.8,840.1 974.9,837.6 976.1,835.2 977.2,832.7 978.4,830.2 981.7,827.7 982.0,825.3 982.4,822.8 985.4,820.3 986.4,817.8 986.7,815.4 987.0,812.9 989.4,810.4 991.9,807.9 992.0,805.5 994.7,803.0 997.2,800.5 998.8,798.0 998.8,795.6 998.9,793.1 999.9,790.6 1002.1,788.1 1002.3,785.7 1004.2,783.2 1004.9,780.7 1005.0,778.2 1007.1,775.8 1009.0,773.3 1010.1,770.8 1010.1,768.3 1010.4,765.9 1011.8,763.4 1012.6,760.9 1013.2,758.4 1016.1,755.9 1017.7,753.5 1021.4,751.0 1021.4,748.5 1021.8,746.0 1021.9,743.6 1022.1,741.1 1023.4,738.6 1024.2,736.1 1024.7,733.7 1026.9,731.2 1028.1,728.7 1029.1,726.2 1029.3,723.8 1029.5,721.3 1031.8,718.8 1033.5,716.3 1036.6,713.9 1038.0,711.4 1041.8,708.9 1043.9,706.4 1044.1,704.0 1046.4,701.5 1047.5,699.0 1050.1,696.5 1050.7,694.1 1051.1,691.6 1053.0,689.1 1053.4,686.6 1055.3,684.2 1060.5,681.7 1060.9,679.2 1063.4,676.7 1063.7,674.2 1069.6,671.8 1072.0,669.3 1074.1,666.8 1076.2,664.3 1080.0,661.9 1082.5,659.4 1084.0,656.9 1085.4,654.4 1089.9,652.0 1092.7,649.5 1094.7,647.0 1098.3,644.5 1099.5,642.1 1100.0,639.6 1101.9,637.1 1115.5,634.6 1121.0,632.2 1123.2,629.7 1125.1,627.2 1129.3,624.7 1133.3,622.3 1145.5,619.8 1150.4,617.3 1152.1,614.8 1156.3,612.4 1163.2,609.9 1168.0,607.4 1168.5,604.9 1171.4,602.5 1173.9,600.0 1175.6,597.5 1179.4,595.0 1182.8,592.5 1185.0,590.1 1190.0,587.6 1191.0,585.1 1196.5,582.6 1197.5,580.2 1199.9,577.7 1202.8,575.2 1208.8,572.7 1212.2,570.3 1218.2,567.8 1219.2,565.3 1221.8,562.8 1224.9,560.4 1232.0,557.9 1232.3,555.4 1232.4,552.9 1234.2,550.5 1235.7,548.0 1242.0,545.5 1245.3,543.0 1251.4,540.6 1259.7,538.1 1261.0,535.6 1264.9,533.1 1272.4,530.7 1281.8,528.2 1283.0,525.7 1284.3,523.2 1287.8,520.8 1288.7,518.3 1288.8,515.8 1293.7,513.3 1301.4,510.9 1302.9,508.4 1308.7,505.9" stroke="#820808" stroke-width="2.2"/>
<polyline points="964.0,852.5 964.0,850.0 966.8,847.5 968.8,845.1 975.3,842.6 975.8,840.1 975.9,837.6 978.7,835.2 981.4,832.7 981.9,830.2 984.2,827.7 991.0,825.3 991.9,822.8 992.5,820.3 993.4,817.8 994.4,815.4 995.2,812.9 996.5,810.4 998.9,807.9 1002.4,805.5 1002.5,803.0 1004.2,800.5 1007.9,798.0 1008.0,795.6 1008.4,793.1 1008.9,790.6 1009.3,788.1 1012.7,785.7 1014.0,783.2 1015.1,780.7 1015.5,778.2 1015.9,775.8 1018.4,773.3 1019.6,770.8 1020.3,768.3 1020.4,765.9 1022.9,763.4 1024.8,760.9 1024.8,758.4 1025.0,755.9 1025.5,753.5 1028.3,751.0 1028.4,748.5 1029.1,746.0 1030.4,743.6 1031.0,741.1 1037.1,738.6 1037.3,736.1 1037.6,733.7 1041.2,731.2 1042.5,728.7 1043.3,726.2 1044.0,723.8 1045.2,721.3 1046.2,718.8 1046.3,716.3 1050.8,713.9 1050.9,711.4 1056.9,708.9 1057.4,706.4 1057.4,704.0 1059.5,701.5 1059.7,699.0 1065.1,696.5 1069.4,694.1 1072.8,691.6 1074.2,689.1 1079.3,686.6 1079.6,684.2 1082.0,681.7 1083.0,679.2 1086.3,676.7 1088.7,674.2 1088.8,671.8 1094.9,669.3 1095.9,666.8 1098.4,664.3 1104.4,661.9 1104.6,659.4 1104.9,656.9 1105.2,654.4 1106.7,652.0 1107.1,649.5 1107.3,647.0 1108.3,644.5 1110.9,642.1 1115.6,639.6 1117.5,637.1 1118.9,634.6 1119.9,632.2 1121.7,629.7 1122.0,627.2 1125.2,624.7 1135.8,622.3 1136.6,619.8 1140.8,617.3 1141.6,614.8 1147.2,612.4 1149.6,609.9 1156.4,607.4 1163.8,604.9 1164.9,602.5 1165.8,600.0 1173.1,597.5 1177.5,595.0 1180.4,592.5 1181.2,590.1 1183.0,587.6 1184.2,585.1 1188.5,582.6 1192.6,580.2 1197.7,577.7 1198.7,575.2 1200.6,572.7 1202.4,570.3 1203.5,567.8 1214.1,565.3 1219.1,562.8 1225.9,560.4 1226.6,557.9 1226.9,555.4 1227.5,552.9 1228.1,550.5 1229.1,548.0 1229.9,545.5 1238.3,543.0 1241.6,540.6 1245.6,538.1 1246.6,535.6 1256.6,533.1 1264.0,530.7 1269.0,528.2 1283.7,525.7 1283.9,523.2 1285.3,520.8 1288.0,518.3 1289.9,515.8 1290.9,513.3 1293.2,510.9 1294.4,508.4 1295.4,505.9" stroke="#b4be00" stroke-width="3.2"/>
</g>
<rect x="964.0" y="505.9" width="347.2" height="346.6" fill="none" stroke="#000" stroke-width="2"/>
<line x1="959.0" y1="852.5" x2="964.0" y2="852.5" stroke="#000" stroke-width="2" />
<line x1="959.0" y1="817.8" x2="964.0" y2="817.8" stroke="#000" stroke-width="2" />
<line x1="959.0" y1="783.2" x2="964.0" y2="783.2" stroke="#000" stroke-width="2" />
<line x1="959.0" y1="748.5" x2="964.0" y2="748.5" stroke="#000" stroke-width="2" />
<line x1="959.0" y1="713.9" x2="964.0" y2="713.9" stroke="#000" stroke-width="2" />
<line x1="959.0" y1="679.2" x2="964.0" y2="679.2" stroke="#000" stroke-width="2" />
<line x1="959.0" y1="644.5" x2="964.0" y2="644.5" stroke="#000" stroke-width="2" />
<line x1="959.0" y1="609.9" x2="964.0" y2="609.9" stroke="#000" stroke-width="2" />
<line x1="959.0" y1="575.2" x2="964.0" y2="575.2" stroke="#000" stroke-width="2" />
<line x1="959.0" y1="540.6" x2="964.0" y2="540.6" stroke="#000" stroke-width="2" />
<line x1="959.0" y1="505.9" x2="964.0" y2="505.9" stroke="#000" stroke-width="2" />
<line x1="964.0" y1="852.5" x2="964.0" y2="857.5" stroke="#000" stroke-width="2" />
<line x1="1002.6" y1="852.5" x2="1002.6" y2="857.5" stroke="#000" stroke-width="2" />
<line x1="1041.2" y1="852.5" x2="1041.2" y2="857.5" stroke="#000" stroke-width="2" />
<line x1="1079.7" y1="852.5" x2="1079.7" y2="857.5" stroke="#000" stroke-width="2" />
<line x1="1118.3" y1="852.5" x2="1118.3" y2="857.5" stroke="#000" stroke-width="2" />
<line x1="1156.9" y1="852.5" x2="1156.9" y2="857.5" stroke="#000" stroke-width="2" />
<line x1="1195.5" y1="852.5" x2="1195.5" y2="857.5" stroke="#000" stroke-width="2" />
<line x1="1234.0" y1="852.5" x2="1234.0" y2="857.5" stroke="#000" stroke-width="2" />
<line x1="1272.6" y1="852.5" x2="1272.6" y2="857.5" stroke="#000" stroke-width="2" />
<line x1="1311.2" y1="852.5" x2="1311.2" y2="857.5" stroke="#000" stroke-width="2" />
<text x="957.5" y="861.1" font-size="21.1" font-weight="normal" font-style="normal" text-anchor="end" fill="#000" >0</text>
<text x="957.5" y="791.8" font-size="21.1" font-weight="normal" font-style="normal" text-anchor="end" fill="#000" >20</text>
<text x="957.5" y="722.5" font-size="21.1" font-weight="normal" font-style="normal" text-anchor="end" fill="#000" >40</text>
<text x="957.5" y="653.1" font-size="21.1" font-weight="normal" font-style="normal" text-anchor="end" fill="#000" >60</text>
<text x="957.5" y="583.8" font-size="21.1" font-weight="normal" font-style="normal" text-anchor="end" fill="#000" >80</text>
<text x="957.5" y="514.5" font-size="21.1" font-weight="normal" font-style="normal" text-anchor="end" fill="#000" >100</text>
<text x="964.0" y="873.9" font-size="21.1" font-weight="normal" font-style="normal" text-anchor="middle" fill="#000" >0</text>
<text x="1079.7" y="873.9" font-size="21.1" font-weight="normal" font-style="normal" text-anchor="middle" fill="#000" >30</text>
<text x="1195.5" y="873.9" font-size="21.1" font-weight="normal" font-style="normal" text-anchor="middle" fill="#000" >60</text>
<text x="1311.2" y="873.9" font-size="21.1" font-weight="normal" font-style="normal" text-anchor="middle" fill="#000" >90</text>
<text x="0" y="0" font-size="21.2" text-anchor="middle" transform="translate(927.2,679.2) rotate(-90)">cumulative percentage</text>
<text x="997.3" y="895.5" font-size="21.1" font-weight="normal" font-style="normal" text-anchor="start" fill="#000" >deviation</text>
<text transform="translate(1087.5,895.5) scale(1.25,1)" font-size="20.1">θ</text>
<text x="1100.9" y="898.5" font-size="17.2" font-weight="normal" font-style="normal" text-anchor="start" fill="#000" >theory</text>
<text x="1153.3" y="895.5" font-size="21.1" font-weight="normal" font-style="normal" text-anchor="start" fill="#000" >-</text>
<text transform="translate(1162.3,895.5) scale(1.25,1)" font-size="20.1">θ</text>
<text x="1177.0" y="898.5" font-size="21.0" font-weight="normal" font-style="normal" text-anchor="start" fill="#000" >division</text>
<text x="1250.6" y="895.5" font-size="21.1" font-weight="normal" font-style="normal" text-anchor="start" fill="#000" >(°)</text>
<text x="972.8" y="527.6" font-size="21.1" font-weight="bold" font-style="normal" text-anchor="start" fill="#000" >GFP:Mud signal</text>
<text x="973.4" y="552.1" font-size="21.1"><tspan font-style="italic">n</tspan>=140</text>
<text x="1142.0" y="735.1" font-size="20.8" font-weight="bold" font-style="normal" text-anchor="start" fill="#000" >GFP–Mud</text>
<text x="1306.0" y="735.1" font-size="20.8" font-weight="bold" font-style="normal" text-anchor="end" fill="#000" >shape</text>
<line x1="1173.8" y1="756.5" x2="1195.5" y2="756.5" stroke="#000000" stroke-width="4.4" />
<line x1="1262.6" y1="756.5" x2="1284.7" y2="756.5" stroke="#b4be00" stroke-width="4" />
<text x="1207.3" y="762.2" font-size="21.1" font-weight="normal" font-style="normal" text-anchor="start" fill="#000" >α=0</text>
<line x1="1173.8" y1="782.9" x2="1195.5" y2="782.9" stroke="#5a0505" stroke-width="4" />
<line x1="1262.6" y1="782.9" x2="1284.7" y2="782.9" stroke="#b4be00" stroke-width="4" />
<text x="1207.3" y="788.6" font-size="21.1" font-weight="normal" font-style="normal" text-anchor="start" fill="#000" >α=1</text>
<line x1="1173.8" y1="809.3" x2="1195.5" y2="809.3" stroke="#804010" stroke-width="4" />
<line x1="1262.6" y1="809.3" x2="1284.7" y2="809.3" stroke="#b4be00" stroke-width="4" />
<text x="1207.3" y="815.0" font-size="21.1" font-weight="normal" font-style="normal" text-anchor="start" fill="#000" >α=2</text>
<line x1="1173.8" y1="835.7" x2="1195.5" y2="835.7" stroke="#820808" stroke-width="4" />
<line x1="1262.6" y1="835.7" x2="1284.7" y2="835.7" stroke="#b4be00" stroke-width="4" />
<text x="1207.3" y="841.4" font-size="21.1" font-weight="normal" font-style="normal" text-anchor="start" fill="#000" >α=3</text>
<text x="1.9" y="933.9" font-size="33" font-weight="bold" font-style="normal" text-anchor="start" fill="#000" >g</text>
<rect x="94" y="952.3" width="348.9" height="341.2" fill="none" stroke="#000" stroke-width="2"/>
<line x1="94.0" y1="1122.7" x2="442.9" y2="1122.7" stroke="#000" stroke-width="2" />
<line x1="88.2" y1="952.3" x2="94.0" y2="952.3" stroke="#000" stroke-width="2" />
<line x1="88.2" y1="1037.5" x2="94.0" y2="1037.5" stroke="#000" stroke-width="2" />
<line x1="88.2" y1="1122.7" x2="94.0" y2="1122.7" stroke="#000" stroke-width="2" />
<line x1="88.2" y1="1207.9" x2="94.0" y2="1207.9" stroke="#000" stroke-width="2" />
<line x1="88.2" y1="1293.1" x2="94.0" y2="1293.1" stroke="#000" stroke-width="2" />
<line x1="163.4" y1="1122.7" x2="163.4" y2="1128.7" stroke="#000" stroke-width="2" />
<line x1="233.3" y1="1122.7" x2="233.3" y2="1128.7" stroke="#000" stroke-width="2" />
<line x1="303.1" y1="1122.7" x2="303.1" y2="1128.7" stroke="#000" stroke-width="2" />
<line x1="373.0" y1="1122.7" x2="373.0" y2="1128.7" stroke="#000" stroke-width="2" />
<text x="80.5" y="961.8" font-size="21.1" font-weight="normal" font-style="normal" text-anchor="end" fill="#000" >1.0</text>
<text x="80.5" y="1047.0" font-size="21.1" font-weight="normal" font-style="normal" text-anchor="end" fill="#000" >0.5</text>
<text x="80.5" y="1132.2" font-size="21.1" font-weight="normal" font-style="normal" text-anchor="end" fill="#000" >0.0</text>
<text x="83.0" y="1217.4" font-size="21.1" font-weight="normal" font-style="normal" text-anchor="end" fill="#000" >-0.5</text>
<text x="83.5" y="1302.6" font-size="21.1" font-weight="normal" font-style="normal" text-anchor="end" fill="#000" >-1.0</text>
<text x="110.9" y="1149.8" font-size="21.1" font-weight="normal" font-style="normal" text-anchor="middle" fill="#000" >0.0</text>
<text x="160.9" y="1149.8" font-size="21.1" font-weight="normal" font-style="normal" text-anchor="middle" fill="#000" >0.2</text>
<text x="231.5" y="1149.8" font-size="21.1" font-weight="normal" font-style="normal" text-anchor="middle" fill="#000" >0.4</text>
<text x="301.5" y="1149.8" font-size="21.1" font-weight="normal" font-style="normal" text-anchor="middle" fill="#000" >0.6</text>
<text x="372.5" y="1149.8" font-size="21.1" font-weight="normal" font-style="normal" text-anchor="middle" fill="#000" >0.8</text>
<text x="425.5" y="1149.8" font-size="21.1" font-weight="normal" font-style="normal" text-anchor="middle" fill="#000" >1.0</text>
<text x="0" y="0" font-size="21.1" transform="translate(41,1342.2) rotate(-90)">cos(θtheory - θdivision) - sin(θtheory - θdivision)</text>
<text x="145.7" y="1321.3" font-size="21.0" font-weight="normal" font-style="normal" text-anchor="start" fill="#000" >normalized potential depth</text>
<text x="103" y="1285.9" font-size="21.1"><tspan font-style="italic">n</tspan>=140</text>
<rect x="226" y="1251.5" width="10" height="9.5" fill="#ee1111" stroke="#991111" stroke-width="1"/>
<rect x="226" y="1274.3" width="10" height="9.5" fill="#1111ee" stroke="#111199" stroke-width="1"/>
<text x="247.5" y="1261.9" font-size="20.9" font-weight="bold" font-style="normal" text-anchor="start" fill="#000" >GFP–Mud intensity</text>
<text x="247.5" y="1284.5" font-size="20.9" font-weight="bold" font-style="normal" text-anchor="start" fill="#000" >shape</text>
<polyline points="143.7,1097.7 211.3,1105.9 288.9,1074.8 383.8,977.3" fill="none" stroke="#1515cc" stroke-width="2" stroke-dasharray="6,3.5"/>
<polyline points="163.0,1089.0 224.9,1063.1 307.2,1050.8 391.1,978.1" fill="none" stroke="#dd1a1a" stroke-width="2" stroke-dasharray="6,3.5"/>
<line x1="143.7" y1="1086.8" x2="143.7" y2="1108.6" stroke="#1515cc" stroke-width="2.4" />
<line x1="137.2" y1="1086.8" x2="150.2" y2="1086.8" stroke="#1515cc" stroke-width="2.4" />
<line x1="137.2" y1="1108.6" x2="150.2" y2="1108.6" stroke="#1515cc" stroke-width="2.4" />
<line x1="211.3" y1="1089.8" x2="211.3" y2="1122.2" stroke="#1515cc" stroke-width="2.4" />
<line x1="204.8" y1="1089.8" x2="217.8" y2="1089.8" stroke="#1515cc" stroke-width="2.4" />
<line x1="204.8" y1="1122.2" x2="217.8" y2="1122.2" stroke="#1515cc" stroke-width="2.4" />
<line x1="288.9" y1="1051.7" x2="288.9" y2="1097.7" stroke="#1515cc" stroke-width="2.4" />
<line x1="282.4" y1="1051.7" x2="295.4" y2="1051.7" stroke="#1515cc" stroke-width="2.4" />
<line x1="282.4" y1="1097.7" x2="295.4" y2="1097.7" stroke="#1515cc" stroke-width="2.4" />
<line x1="383.8" y1="968.5" x2="383.8" y2="985.4" stroke="#1515cc" stroke-width="2.4" />
<line x1="377.3" y1="968.5" x2="390.3" y2="968.5" stroke="#1515cc" stroke-width="2.4" />
<line x1="377.3" y1="985.4" x2="390.3" y2="985.4" stroke="#1515cc" stroke-width="2.4" />
<line x1="163.0" y1="1064.5" x2="163.0" y2="1113.0" stroke="#dd1a1a" stroke-width="2.4" />
<line x1="156.5" y1="1064.5" x2="169.5" y2="1064.5" stroke="#dd1a1a" stroke-width="2.4" />
<line x1="156.5" y1="1113.0" x2="169.5" y2="1113.0" stroke="#dd1a1a" stroke-width="2.4" />
<line x1="224.9" y1="1051.4" x2="224.9" y2="1075.4" stroke="#dd1a1a" stroke-width="2.4" />
<line x1="218.4" y1="1051.4" x2="231.4" y2="1051.4" stroke="#dd1a1a" stroke-width="2.4" />
<line x1="218.4" y1="1075.4" x2="231.4" y2="1075.4" stroke="#dd1a1a" stroke-width="2.4" />
<line x1="307.2" y1="1037.8" x2="307.2" y2="1063.6" stroke="#dd1a1a" stroke-width="2.4" />
<line x1="300.7" y1="1037.8" x2="313.7" y2="1037.8" stroke="#dd1a1a" stroke-width="2.4" />
<line x1="300.7" y1="1063.6" x2="313.7" y2="1063.6" stroke="#dd1a1a" stroke-width="2.4" />
<line x1="391.1" y1="970.4" x2="391.1" y2="986.8" stroke="#dd1a1a" stroke-width="2.4" />
<line x1="384.6" y1="970.4" x2="397.6" y2="970.4" stroke="#dd1a1a" stroke-width="2.4" />
<line x1="384.6" y1="986.8" x2="397.6" y2="986.8" stroke="#dd1a1a" stroke-width="2.4" />
<line x1="365.2" y1="977.3" x2="403.4" y2="977.3" stroke="#1515cc" stroke-width="2.4" />
<line x1="365.2" y1="971.0" x2="365.2" y2="984.0" stroke="#1515cc" stroke-width="2.4" />
<line x1="403.4" y1="971.0" x2="403.4" y2="984.0" stroke="#1515cc" stroke-width="2.4" />
<rect x="139.2" y="1093.2" width="9" height="9" fill="#1111ee" stroke="#111188" stroke-width="1"/>
<rect x="206.8" y="1101.4" width="9" height="9" fill="#1111ee" stroke="#111188" stroke-width="1"/>
<rect x="284.4" y="1070.3" width="9" height="9" fill="#1111ee" stroke="#111188" stroke-width="1"/>
<rect x="379.3" y="972.8" width="9" height="9" fill="#1111ee" stroke="#111188" stroke-width="1"/>
<rect x="158.5" y="1084.5" width="9" height="9" fill="#ee1111" stroke="#881111" stroke-width="1"/>
<rect x="220.4" y="1058.6" width="9" height="9" fill="#ee1111" stroke="#881111" stroke-width="1"/>
<rect x="302.7" y="1046.3" width="9" height="9" fill="#ee1111" stroke="#881111" stroke-width="1"/>
<rect x="386.6" y="973.6" width="9" height="9" fill="#ee1111" stroke="#881111" stroke-width="1"/>
<rect x="385.5" y="971" width="13" height="14" fill="none" stroke="#dd1a1a" stroke-width="2"/>
<text x="469.4" y="930.0" font-size="33" font-weight="bold" font-style="normal" text-anchor="start" fill="#000" >h</text>
<defs><clipPath id="clipH"><circle cx="654.5" cy="1142.7" r="160.6"/></clipPath></defs>
<g stroke="#000" stroke-width="1.3" fill="none">
<line x1="742.7" y1="1107.7" x2="718.3" y2="996.7" stroke="#000" stroke-width="1.3" />
<line x1="742.7" y1="1107.7" x2="810.7" y2="1113.3" stroke="#000" stroke-width="1.3" />
<line x1="742.7" y1="1107.7" x2="812.7" y2="1153.3" stroke="#000" stroke-width="1.3" />
<line x1="742.7" y1="1107.7" x2="808.3" y2="1183.3" stroke="#000" stroke-width="1.3" />
<line x1="742.7" y1="1107.7" x2="742.7" y2="1275.0" stroke="#000" stroke-width="1.3" />
<line x1="742.7" y1="1107.7" x2="592.7" y2="996.0" stroke="#000" stroke-width="1.3" />
<line x1="566.0" y1="1177.3" x2="500.0" y2="1100.0" stroke="#000" stroke-width="1.3" />
<line x1="566.0" y1="1177.3" x2="495.0" y2="1130.7" stroke="#000" stroke-width="1.3" />
<line x1="566.0" y1="1177.3" x2="498.3" y2="1170.7" stroke="#000" stroke-width="1.3" />
<line x1="566.0" y1="1177.3" x2="591.7" y2="1289.3" stroke="#000" stroke-width="1.3" />
<line x1="566.0" y1="1177.3" x2="716.7" y2="1288.3" stroke="#000" stroke-width="1.3" />
<line x1="566.0" y1="1177.3" x2="566.7" y2="1009.3" stroke="#555" stroke-width="1.4" />
</g>
<line x1="742.7" y1="1107.7" x2="766.7" y2="1030.0" stroke="#000" stroke-width="2.4" />
<line x1="566.0" y1="1177.3" x2="541.7" y2="1255.0" stroke="#000" stroke-width="2.4" />
<line x1="654.5" y1="1142.3" x2="766.7" y2="1030.0" stroke="#000" stroke-width="1.8" stroke-dasharray="6,4"/>
<line x1="742.7" y1="1107.7" x2="803.3" y2="1082.7" stroke="#000" stroke-width="1.8" stroke-dasharray="7,3,2,3"/>
<line x1="654.0" y1="1142.3" x2="654.0" y2="952.0" stroke="#7a7a7a" stroke-width="2.6" />
<line x1="654.0" y1="1142.3" x2="844.0" y2="1142.3" stroke="#7a7a7a" stroke-width="2.6" />
<polyline points="647,960 654,951 661,960" fill="none" stroke="#7a7a7a" stroke-width="2.6"/>
<polyline points="836,1135.3 845,1142.3 836,1149.3" fill="none" stroke="#7a7a7a" stroke-width="2.6"/>
<circle cx="654.5" cy="1142.7" r="160.6" fill="none" stroke="#111" stroke-width="2.2"/>
<line x1="566.0" y1="1177.3" x2="742.7" y2="1107.7" stroke="#000" stroke-width="3.4" />
<circle cx="566" cy="1177.3" r="10" fill="#000"/>
<circle cx="742.7" cy="1107.7" r="10" fill="#000"/>
<line x1="792.0" y1="1000.0" x2="778.0" y2="1016.0" stroke="#000" stroke-width="3.2" />
<polygon points="769,1028 772,1011 784,1021" fill="#000"/>
<path d="M561.7,1146.7 C540,1160 532,1178 540,1190 C548,1203 565,1206 585,1203" fill="none" stroke="#000" stroke-width="2"/>
<polygon points="593.5,1203 578,1195 582,1203 579,1214" fill="#000"/>
<text x="631.0" y="963.5" font-size="22" font-weight="normal" font-style="italic" text-anchor="start" fill="#000" >y</text>
<text x="834.5" y="1166.5" font-size="22" font-weight="normal" font-style="italic" text-anchor="start" fill="#000" >x</text>
<text x="775.0" y="993.5" font-size="21.1" font-weight="normal" font-style="normal" text-anchor="start" fill="#000" >MT</text>
<text x="623.3" y="1178.3" font-size="21.1" font-weight="normal" font-style="normal" text-anchor="start" fill="#000" >spindle</text>
<text x="699.3" y="1114.0" font-size="22" font-weight="normal" font-style="normal" text-anchor="start" fill="#000" font-family="Liberation Serif, serif">ψ</text>
<text x="705.9" y="1140.5" font-size="23" font-weight="normal" font-style="normal" text-anchor="start" fill="#000" >θ</text>
<text x="752.7" y="1091.8" font-size="24" font-weight="normal" font-style="normal" text-anchor="start" fill="#000" font-family="Liberation Serif, serif">ϕ</text>
<text x="509.1" y="1208.3" font-size="31" font-weight="normal" font-style="normal" text-anchor="start" fill="#000" font-family="Liberation Serif, serif">Φ</text>
<text x="912.8" y="929.8" font-size="33" font-weight="bold" font-style="normal" text-anchor="start" fill="#000" >i</text>
<rect x="963.5" y="952.4" width="347.8" height="341.5" fill="none" stroke="#000" stroke-width="2"/>
<line x1="954.5" y1="1293.9" x2="963.5" y2="1293.9" stroke="#000" stroke-width="2" />
<text x="949.5" y="1300.7" font-size="21.1" font-weight="normal" font-style="normal" text-anchor="end" fill="#000" >0.0</text>
<line x1="954.5" y1="1231.8" x2="963.5" y2="1231.8" stroke="#000" stroke-width="2" />
<text x="949.5" y="1238.6" font-size="21.1" font-weight="normal" font-style="normal" text-anchor="end" fill="#000" >0.2</text>
<line x1="954.5" y1="1169.7" x2="963.5" y2="1169.7" stroke="#000" stroke-width="2" />
<text x="949.5" y="1176.5" font-size="21.1" font-weight="normal" font-style="normal" text-anchor="end" fill="#000" >0.4</text>
<line x1="954.5" y1="1107.7" x2="963.5" y2="1107.7" stroke="#000" stroke-width="2" />
<text x="949.5" y="1114.5" font-size="21.1" font-weight="normal" font-style="normal" text-anchor="end" fill="#000" >0.6</text>
<line x1="954.5" y1="1045.6" x2="963.5" y2="1045.6" stroke="#000" stroke-width="2" />
<text x="949.5" y="1052.4" font-size="21.1" font-weight="normal" font-style="normal" text-anchor="end" fill="#000" >0.8</text>
<line x1="954.5" y1="983.5" x2="963.5" y2="983.5" stroke="#000" stroke-width="2" />
<text x="949.5" y="990.3" font-size="21.1" font-weight="normal" font-style="normal" text-anchor="end" fill="#000" >1.0</text>
<line x1="963.5" y1="1293.9" x2="963.5" y2="1302.9" stroke="#000" stroke-width="2" />
<text x="963.5" y="1321.9" font-size="21.1" font-weight="normal" font-style="normal" text-anchor="middle" fill="#000" >0</text>
<line x1="1026.3" y1="1293.9" x2="1026.3" y2="1302.9" stroke="#000" stroke-width="2" />
<text x="1026.3" y="1321.9" font-size="21.1" font-weight="normal" font-style="normal" text-anchor="middle" fill="#000" >2</text>
<line x1="1089.0" y1="1293.9" x2="1089.0" y2="1302.9" stroke="#000" stroke-width="2" />
<text x="1089.0" y="1321.9" font-size="21.1" font-weight="normal" font-style="normal" text-anchor="middle" fill="#000" >4</text>
<line x1="1151.8" y1="1293.9" x2="1151.8" y2="1302.9" stroke="#000" stroke-width="2" />
<text x="1151.8" y="1321.9" font-size="21.1" font-weight="normal" font-style="normal" text-anchor="middle" fill="#000" >6</text>
<line x1="1214.5" y1="1293.9" x2="1214.5" y2="1302.9" stroke="#000" stroke-width="2" />
<text x="1214.5" y="1321.9" font-size="21.1" font-weight="normal" font-style="normal" text-anchor="middle" fill="#000" >8</text>
<line x1="1277.3" y1="1293.9" x2="1277.3" y2="1302.9" stroke="#000" stroke-width="2" />
<text x="1277.3" y="1321.9" font-size="21.1" font-weight="normal" font-style="normal" text-anchor="middle" fill="#000" >10</text>
<text x="1137.9" y="1342" font-size="21.1" text-anchor="middle">mode number <tspan font-style="italic">n</tspan></text>
<text x="0" y="0" font-size="21.1" text-anchor="middle" transform="translate(912.5,1123) rotate(-90)">relative amplitude</text>
<polyline points="1026.3,983.5 1089.0,1221.0 1151.8,1250.4 1214.5,1273.7 1277.3,1284.6" fill="none" stroke="#000" stroke-width="2.2"/>
<polyline points="1026.3,981.9 1089.0,1098.3 1151.8,1210.1 1214.5,1272.2 1277.3,1283.0" fill="none" stroke="#000" stroke-width="2.2"/>
<circle cx="1026.3" cy="983.5" r="5" fill="#000"/>
<circle cx="1089.0" cy="1221.0" r="5" fill="#000"/>
<circle cx="1151.8" cy="1250.4" r="5" fill="#000"/>
<circle cx="1214.5" cy="1273.7" r="5" fill="#000"/>
<circle cx="1277.3" cy="1284.6" r="5" fill="#000"/>
<circle cx="1026.3" cy="981.9" r="5.2" fill="#fff" stroke="#000" stroke-width="1.6"/>
<circle cx="1089.0" cy="1098.3" r="5.2" fill="#fff" stroke="#000" stroke-width="1.6"/>
<circle cx="1151.8" cy="1210.1" r="5.2" fill="#fff" stroke="#000" stroke-width="1.6"/>
<circle cx="1214.5" cy="1272.2" r="5.2" fill="#fff" stroke="#000" stroke-width="1.6"/>
<circle cx="1277.3" cy="1283.0" r="5.2" fill="#fff" stroke="#000" stroke-width="1.6"/>
<circle cx="1218.2" cy="976.1" r="5.2" fill="#fff" stroke="#000" stroke-width="1.6"/>
<circle cx="1218.2" cy="997.3" r="5.6" fill="#000"/>
<text x="1231.5" y="982.3" font-size="21.1" font-weight="normal" font-style="normal" text-anchor="start" fill="#000" ><tspan font-family="Liberation Serif, serif" font-size="22">Φ</tspan>=180°</text>
<text x="1231.5" y="1002.8" font-size="21.1" font-weight="normal" font-style="normal" text-anchor="start" fill="#000" ><tspan font-family="Liberation Serif, serif" font-size="22">Φ</tspan>=270°</text>
<text x="1.4" y="1378.1" font-size="33" font-weight="bold" font-style="normal" text-anchor="start" fill="#000" >j</text>
<ellipse cx="248.15" cy="1569.05" rx="159.4" ry="176.7" transform="rotate(-29 248.15 1569.05)" fill="#e4e4fa" stroke="#0000dd" stroke-width="3"/>
<polygon points="233.3,1413.4 392.8,1564.9 355.9,1675.6 284.9,1725.4 106.2,1569.4 135.1,1455.5" fill="none" stroke="#0000dd" stroke-width="3.2" stroke-linejoin="miter"/>
<circle cx="242" cy="1570.4" r="6" fill="#000"/>
<polygon points="683,1410.4 842.4,1561.7 806.2,1672.9 734.7,1722.5 556.2,1566.6 585.4,1453.2" fill="#e4e4fa" stroke="#0000dd" stroke-width="3.2"/>
<line x1="627.6" y1="1502.3" x2="754.4" y2="1622.2" stroke="#0000dd" stroke-width="8" stroke-linecap="round"/>
<circle cx="691.1" cy="1562.2" r="6" fill="#000"/>
<ellipse cx="1119.2" cy="1567.35" rx="159.4" ry="176.7" transform="rotate(-29 1119.2 1567.35)" fill="#e4e4fa" stroke="#0000dd" stroke-width="3"/>
<line x1="1103.5" y1="1556.6" x2="1124.0" y2="1583.0" stroke="#0000dd" stroke-width="7" stroke-linecap="round"/>
<circle cx="1113" cy="1569.4" r="6" fill="#000"/>
<ellipse cx="247.15" cy="1985.7" rx="159.4" ry="176.7" transform="rotate(-29 247.15 1985.7)" fill="#f0f0f0" stroke="#555555" stroke-width="3.8"/>
<polygon points="230.8,1832.6 390.7,1982.1 354.8,2093.4 282.6,2141.0 105.2,1987.2 133.8,1874.0" fill="none" stroke="#555555" stroke-width="3.8"/>
<line x1="241.0" y1="1987.8" x2="230.8" y2="1813.6" stroke="#000" stroke-width="1.2" stroke-dasharray="3,2.5"/>
<line x1="241.0" y1="1987.8" x2="408.8" y2="1980.5" stroke="#000" stroke-width="1.2" stroke-dasharray="3,2.5"/>
<line x1="241.0" y1="1987.8" x2="370.7" y2="2108.6" stroke="#000" stroke-width="1.2" stroke-dasharray="3,2.5"/>
<line x1="241.0" y1="1987.8" x2="287.4" y2="2155.4" stroke="#000" stroke-width="1.2" stroke-dasharray="3,2.5"/>
<line x1="241.0" y1="1987.8" x2="83.9" y2="1987.2" stroke="#000" stroke-width="1.2" stroke-dasharray="3,2.5"/>
<line x1="241.0" y1="1987.8" x2="122.0" y2="1861.3" stroke="#000" stroke-width="1.2" stroke-dasharray="3,2.5"/>
<circle cx="241" cy="1987.8" r="36.6" fill="#fff" stroke="#000" stroke-width="2"/>
<line x1="241.0" y1="1987.8" x2="239.4" y2="1960.8" stroke="#ee1111" stroke-width="1.6" />
<polygon points="239.0,1952.9 242.9,1960.6 235.9,1961.1" fill="#ee1111"/>
<line x1="241.0" y1="1987.8" x2="268.0" y2="1986.6" stroke="#ee1111" stroke-width="1.6" />
<polygon points="276.0,1986.3 268.1,1990.1 267.8,1983.1" fill="#ee1111"/>
<line x1="241.0" y1="1987.8" x2="260.8" y2="2006.2" stroke="#ee1111" stroke-width="1.6" />
<polygon points="266.6,2011.7 258.4,2008.8 263.1,2003.6" fill="#ee1111"/>
<line x1="241.0" y1="1987.8" x2="248.2" y2="2013.8" stroke="#ee1111" stroke-width="1.6" />
<polygon points="250.3,2021.5 244.8,2014.8 251.6,2012.9" fill="#ee1111"/>
<line x1="241.0" y1="1987.8" x2="214.0" y2="1987.7" stroke="#ee1111" stroke-width="1.6" />
<polygon points="206.0,1987.7 214.0,1984.2 214.0,1991.2" fill="#ee1111"/>
<line x1="241.0" y1="1987.8" x2="222.5" y2="1968.1" stroke="#ee1111" stroke-width="1.6" />
<polygon points="217.0,1962.3 225.0,1965.7 220.0,1970.5" fill="#ee1111"/>
<circle cx="241" cy="1987.8" r="6" fill="#000"/>
<circle cx="230.8" cy="1832.6" r="6.4" fill="#ee1111"/>
<circle cx="390.7" cy="1982.1" r="6.4" fill="#ee1111"/>
<circle cx="354.8" cy="2093.4" r="6.4" fill="#ee1111"/>
<circle cx="282.6" cy="2141" r="6.4" fill="#ee1111"/>
<circle cx="105.2" cy="1987.2" r="6.4" fill="#ee1111"/>
<circle cx="133.8" cy="1874" r="6.4" fill="#ee1111"/>
<circle cx="230.8" cy="1813.6" r="6.4" fill="#ee1111"/>
<circle cx="408.8" cy="1980.5" r="6.4" fill="#ee1111"/>
<circle cx="370.7" cy="2108.6" r="6.4" fill="#ee1111"/>
<circle cx="287.4" cy="2155.4" r="6.4" fill="#ee1111"/>
<circle cx="83.9" cy="1987.2" r="6.4" fill="#ee1111"/>
<circle cx="122" cy="1861.3" r="6.4" fill="#ee1111"/>
<text x="232.4" y="1802.5" font-size="21.1" font-weight="normal" font-style="normal" text-anchor="middle" fill="#000" >1</text>
<text x="426.3" y="1987.0" font-size="21.1" font-weight="normal" font-style="normal" text-anchor="middle" fill="#000" >2</text>
<text x="386.6" y="2125.5" font-size="21.1" font-weight="normal" font-style="normal" text-anchor="middle" fill="#000" >3</text>
<text x="294.4" y="2179.5" font-size="21.1" font-weight="normal" font-style="normal" text-anchor="middle" fill="#000" >4</text>
<text x="67.0" y="1992.0" font-size="21.1" font-weight="normal" font-style="normal" text-anchor="middle" fill="#000" >5</text>
<text x="112.5" y="1855.0" font-size="21.1" font-weight="normal" font-style="normal" text-anchor="middle" fill="#000" >6</text>
<text x="254.6" y="1944" font-size="19" font-style="italic" text-anchor="middle">u<tspan font-size="14" dy="4">1</tspan></text>
<text x="252.6" y="1931" font-size="13" text-anchor="middle">→</text>
<text x="294.4" y="2012.5" font-size="19" font-style="italic" text-anchor="middle">u<tspan font-size="14" dy="4">2</tspan></text>
<text x="292.4" y="1999.5" font-size="13" text-anchor="middle">→</text>
<text x="269" y="2044.5" font-size="19" font-style="italic" text-anchor="middle">u<tspan font-size="14" dy="4">3</tspan></text>
<text x="267" y="2031.5" font-size="13" text-anchor="middle">→</text>
<text x="238.7" y="2047.5" font-size="19" font-style="italic" text-anchor="middle">u<tspan font-size="14" dy="4">4</tspan></text>
<text x="236.7" y="2034.5" font-size="13" text-anchor="middle">→</text>
<text x="192" y="2014" font-size="19" font-style="italic" text-anchor="middle">u<tspan font-size="14" dy="4">5</tspan></text>
<text x="190" y="2001" font-size="13" text-anchor="middle">→</text>
<text x="194.2" y="1968" font-size="19" font-style="italic" text-anchor="middle">u<tspan font-size="14" dy="4">6</tspan></text>
<text x="192.2" y="1955" font-size="13" text-anchor="middle">→</text>
<polygon points="682.6,1830.4 842.2,1980.2 805.9,2091.4 734.1,2139.2 557,1984.8 585.3,1872.1" fill="#f0f0f0" stroke="#555555" stroke-width="3.8"/>
<line x1="627.3" y1="1920.2" x2="755.5" y2="2040.6" stroke="#ee1111" stroke-width="7" stroke-linecap="round"/>
<circle cx="691.4" cy="1980.7" r="6" fill="#000"/>
<circle cx="682.6" cy="1830.4" r="6.2" fill="#ee1111"/>
<circle cx="842.2" cy="1980.2" r="6.2" fill="#ee1111"/>
<circle cx="805.9" cy="2091.4" r="6.2" fill="#ee1111"/>
<circle cx="734.1" cy="2139.2" r="6.2" fill="#ee1111"/>
<circle cx="557" cy="1984.8" r="6.2" fill="#ee1111"/>
<circle cx="585.3" cy="1872.1" r="6.2" fill="#ee1111"/>
<ellipse cx="1119.3" cy="1985.55" rx="159.4" ry="176.7" transform="rotate(-29 1119.3 1985.55)" fill="#f0f0f0" stroke="#555555" stroke-width="3.8"/>
<line x1="1049.0" y1="1927.6" x2="1177.6" y2="2048.3" stroke="#ee1111" stroke-width="7" stroke-linecap="round"/>
<circle cx="1112.5" cy="1988.1" r="6" fill="#000"/>
<circle cx="1104.3" cy="1813.2" r="6.2" fill="#ee1111"/>
<circle cx="1281.5" cy="1980" r="6.2" fill="#ee1111"/>
<circle cx="1243.3" cy="2107.5" r="6.2" fill="#ee1111"/>
<circle cx="1158" cy="2155.2" r="6.2" fill="#ee1111"/>
<circle cx="955.8" cy="1986.2" r="6.2" fill="#ee1111"/>
<circle cx="995" cy="1860.3" r="6.2" fill="#ee1111"/>
</svg></body></html>
